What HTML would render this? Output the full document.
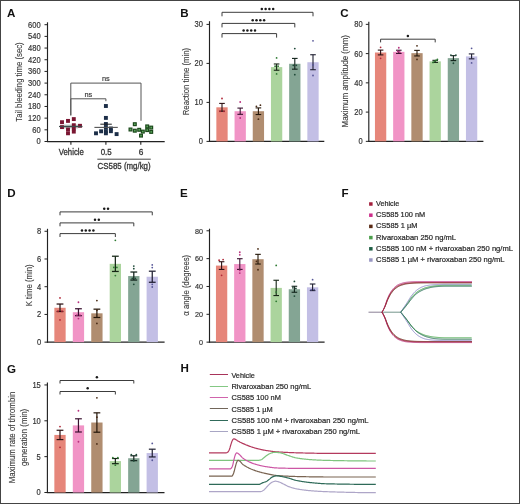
<!DOCTYPE html>
<html><head><meta charset="utf-8"><title>Figure</title>
<style>html,body{margin:0;padding:0;background:#fff;width:520px;height:504px;overflow:hidden}svg text{font-family:"Liberation Sans", sans-serif} svg{will-change:transform}</style>
</head><body>
<svg width="520" height="504" viewBox="0 0 520 504" style="display:block;font-family:'Liberation Sans', sans-serif">
<rect x="0.00" y="0.00" width="520.00" height="504.00" fill="#ffffff"/>
<text x="7.00" y="17.40" font-size="11.6" fill="#111" font-weight="bold">A</text>
<line x1="47.50" y1="22.30" x2="47.50" y2="142.00" stroke="#222" stroke-width="1.15"/>
<line x1="44.50" y1="141.50" x2="47.50" y2="141.50" stroke="#222" stroke-width="1.0"/>
<text x="40.70" y="144.48" font-size="8.4" fill="#333" stroke="#333" stroke-width="0.18" text-anchor="end" textLength="4.20" lengthAdjust="spacingAndGlyphs">0</text>
<line x1="44.50" y1="129.82" x2="47.50" y2="129.82" stroke="#222" stroke-width="1.0"/>
<text x="40.70" y="132.80" font-size="8.4" fill="#333" stroke="#333" stroke-width="0.18" text-anchor="end" textLength="8.40" lengthAdjust="spacingAndGlyphs">60</text>
<line x1="44.50" y1="118.14" x2="47.50" y2="118.14" stroke="#222" stroke-width="1.0"/>
<text x="40.70" y="121.12" font-size="8.4" fill="#333" stroke="#333" stroke-width="0.18" text-anchor="end" textLength="12.60" lengthAdjust="spacingAndGlyphs">120</text>
<line x1="44.50" y1="106.46" x2="47.50" y2="106.46" stroke="#222" stroke-width="1.0"/>
<text x="40.70" y="109.44" font-size="8.4" fill="#333" stroke="#333" stroke-width="0.18" text-anchor="end" textLength="12.60" lengthAdjust="spacingAndGlyphs">180</text>
<line x1="44.50" y1="94.78" x2="47.50" y2="94.78" stroke="#222" stroke-width="1.0"/>
<text x="40.70" y="97.76" font-size="8.4" fill="#333" stroke="#333" stroke-width="0.18" text-anchor="end" textLength="12.60" lengthAdjust="spacingAndGlyphs">240</text>
<line x1="44.50" y1="83.10" x2="47.50" y2="83.10" stroke="#222" stroke-width="1.0"/>
<text x="40.70" y="86.08" font-size="8.4" fill="#333" stroke="#333" stroke-width="0.18" text-anchor="end" textLength="12.60" lengthAdjust="spacingAndGlyphs">300</text>
<line x1="44.50" y1="71.42" x2="47.50" y2="71.42" stroke="#222" stroke-width="1.0"/>
<text x="40.70" y="74.40" font-size="8.4" fill="#333" stroke="#333" stroke-width="0.18" text-anchor="end" textLength="12.60" lengthAdjust="spacingAndGlyphs">360</text>
<line x1="44.50" y1="59.74" x2="47.50" y2="59.74" stroke="#222" stroke-width="1.0"/>
<text x="40.70" y="62.72" font-size="8.4" fill="#333" stroke="#333" stroke-width="0.18" text-anchor="end" textLength="12.60" lengthAdjust="spacingAndGlyphs">420</text>
<line x1="44.50" y1="48.06" x2="47.50" y2="48.06" stroke="#222" stroke-width="1.0"/>
<text x="40.70" y="51.04" font-size="8.4" fill="#333" stroke="#333" stroke-width="0.18" text-anchor="end" textLength="12.60" lengthAdjust="spacingAndGlyphs">480</text>
<line x1="44.50" y1="36.38" x2="47.50" y2="36.38" stroke="#222" stroke-width="1.0"/>
<text x="40.70" y="39.36" font-size="8.4" fill="#333" stroke="#333" stroke-width="0.18" text-anchor="end" textLength="12.60" lengthAdjust="spacingAndGlyphs">540</text>
<line x1="44.50" y1="24.70" x2="47.50" y2="24.70" stroke="#222" stroke-width="1.0"/>
<text x="40.70" y="27.68" font-size="8.4" fill="#333" stroke="#333" stroke-width="0.18" text-anchor="end" textLength="12.60" lengthAdjust="spacingAndGlyphs">600</text>
<line x1="46.90" y1="141.50" x2="164.70" y2="141.50" stroke="#222" stroke-width="1.25"/>
<line x1="70.90" y1="141.50" x2="70.90" y2="144.70" stroke="#222" stroke-width="1.1"/>
<line x1="105.90" y1="141.50" x2="105.90" y2="144.70" stroke="#222" stroke-width="1.1"/>
<line x1="140.80" y1="141.50" x2="140.80" y2="144.70" stroke="#222" stroke-width="1.1"/>
<text x="22.30" y="82.00" font-size="9.6" fill="#3a3a3a" stroke="#3a3a3a" stroke-width="0.12" text-anchor="middle" textLength="79.40" lengthAdjust="spacingAndGlyphs" transform="rotate(-90 22.30 82.00)">Tail bleeding time (sec)</text>
<text x="71.30" y="155.00" font-size="8.8" fill="#333" stroke="#333" stroke-width="0.3" text-anchor="middle" textLength="25.00" lengthAdjust="spacingAndGlyphs">Vehicle</text>
<text x="106.20" y="155.00" font-size="8.8" fill="#333" stroke="#333" stroke-width="0.3" text-anchor="middle" textLength="11.00" lengthAdjust="spacingAndGlyphs">0.5</text>
<text x="141.00" y="155.00" font-size="8.8" fill="#333" stroke="#333" stroke-width="0.3" text-anchor="middle" textLength="4.60" lengthAdjust="spacingAndGlyphs">6</text>
<line x1="97.30" y1="159.20" x2="150.80" y2="159.20" stroke="#333" stroke-width="0.9"/>
<text x="124.10" y="168.80" font-size="8.7" fill="#333" stroke="#333" stroke-width="0.3" text-anchor="middle" textLength="53.00" lengthAdjust="spacingAndGlyphs">CS585 (mg/kg)</text>
<path d="M70.80 115.40V83.10H141.00V120.80" fill="none" stroke="#555" stroke-width="1.0"/>
<text x="105.90" y="80.90" font-size="8" fill="#333" stroke="#333" stroke-width="0.15" text-anchor="middle" textLength="7.80" lengthAdjust="spacingAndGlyphs">ns</text>
<path d="M70.80 115.40V98.80H105.90V101.20" fill="none" stroke="#555" stroke-width="1.0"/>
<text x="88.35" y="96.60" font-size="8" fill="#333" stroke="#333" stroke-width="0.15" text-anchor="middle" textLength="7.80" lengthAdjust="spacingAndGlyphs">ns</text>
<rect x="64" y="124.6" width="14" height="3.8" fill="#b8c4c0"/>
<rect x="60.05" y="120.25" width="3.90" height="3.90" fill="#7a1632"/>
<rect x="60.05" y="125.15" width="3.90" height="3.90" fill="#7a1632"/>
<rect x="66.05" y="118.95" width="3.90" height="3.90" fill="#7a1632"/>
<rect x="66.05" y="127.55" width="3.90" height="3.90" fill="#7a1632"/>
<rect x="66.05" y="131.35" width="3.90" height="3.90" fill="#7a1632"/>
<rect x="71.85" y="117.15" width="3.90" height="3.90" fill="#7a1632"/>
<rect x="71.85" y="123.25" width="3.90" height="3.90" fill="#7a1632"/>
<rect x="71.85" y="126.55" width="3.90" height="3.90" fill="#7a1632"/>
<rect x="71.85" y="129.65" width="3.90" height="3.90" fill="#7a1632"/>
<rect x="78.05" y="123.85" width="3.90" height="3.90" fill="#7a1632"/>
<line x1="59.00" y1="126.50" x2="82.50" y2="126.50" stroke="#3e4a4a" stroke-width="1.2"/>
<rect x="103.95" y="104.05" width="3.90" height="3.90" fill="#1c2e48"/>
<rect x="103.95" y="115.95" width="3.90" height="3.90" fill="#1c2e48"/>
<rect x="103.95" y="122.05" width="3.90" height="3.90" fill="#1c2e48"/>
<rect x="103.95" y="125.85" width="3.90" height="3.90" fill="#1c2e48"/>
<rect x="103.95" y="129.35" width="3.90" height="3.90" fill="#1c2e48"/>
<rect x="103.95" y="131.35" width="3.90" height="3.90" fill="#1c2e48"/>
<rect x="108.95" y="126.55" width="3.90" height="3.90" fill="#1c2e48"/>
<rect x="108.95" y="129.25" width="3.90" height="3.90" fill="#1c2e48"/>
<rect x="99.15" y="129.35" width="3.90" height="3.90" fill="#1c2e48"/>
<rect x="94.05" y="131.35" width="3.90" height="3.90" fill="#1c2e48"/>
<rect x="114.65" y="132.15" width="3.90" height="3.90" fill="#1c2e48"/>
<line x1="94.40" y1="127.40" x2="117.80" y2="127.40" stroke="#555" stroke-width="1.1"/>
<line x1="100.30" y1="124.20" x2="111.80" y2="124.20" stroke="#222" stroke-width="1.0"/>
<rect x="133.40" y="122.80" width="2.80" height="2.80" fill="#5aa55a" stroke="#1d4a1d" stroke-width="1.2"/>
<rect x="129.10" y="128.10" width="2.80" height="2.80" fill="#5aa55a" stroke="#1d4a1d" stroke-width="1.2"/>
<rect x="133.40" y="129.30" width="2.80" height="2.80" fill="#5aa55a" stroke="#1d4a1d" stroke-width="1.2"/>
<rect x="137.80" y="128.40" width="2.80" height="2.80" fill="#5aa55a" stroke="#1d4a1d" stroke-width="1.2"/>
<rect x="141.40" y="130.20" width="2.80" height="2.80" fill="#5aa55a" stroke="#1d4a1d" stroke-width="1.2"/>
<rect x="139.60" y="134.20" width="2.80" height="2.80" fill="#5aa55a" stroke="#1d4a1d" stroke-width="1.2"/>
<rect x="145.80" y="125.00" width="2.80" height="2.80" fill="#5aa55a" stroke="#1d4a1d" stroke-width="1.2"/>
<rect x="145.80" y="128.70" width="2.80" height="2.80" fill="#5aa55a" stroke="#1d4a1d" stroke-width="1.2"/>
<rect x="149.80" y="126.20" width="2.80" height="2.80" fill="#5aa55a" stroke="#1d4a1d" stroke-width="1.2"/>
<rect x="149.80" y="130.50" width="2.80" height="2.80" fill="#5aa55a" stroke="#1d4a1d" stroke-width="1.2"/>
<text x="180.30" y="16.90" font-size="11.6" fill="#111" font-weight="bold">B</text>
<line x1="209.50" y1="21.20" x2="209.50" y2="141.90" stroke="#222" stroke-width="1.15"/>
<line x1="206.50" y1="141.40" x2="209.50" y2="141.40" stroke="#222" stroke-width="1.0"/>
<text x="203.00" y="144.38" font-size="8.4" fill="#333" stroke="#333" stroke-width="0.18" text-anchor="end" textLength="4.20" lengthAdjust="spacingAndGlyphs">0</text>
<line x1="206.50" y1="102.40" x2="209.50" y2="102.40" stroke="#222" stroke-width="1.0"/>
<text x="203.00" y="105.38" font-size="8.4" fill="#333" stroke="#333" stroke-width="0.18" text-anchor="end" textLength="8.40" lengthAdjust="spacingAndGlyphs">10</text>
<line x1="206.50" y1="63.40" x2="209.50" y2="63.40" stroke="#222" stroke-width="1.0"/>
<text x="203.00" y="66.38" font-size="8.4" fill="#333" stroke="#333" stroke-width="0.18" text-anchor="end" textLength="8.40" lengthAdjust="spacingAndGlyphs">20</text>
<line x1="206.50" y1="24.40" x2="209.50" y2="24.40" stroke="#222" stroke-width="1.0"/>
<text x="203.00" y="27.38" font-size="8.4" fill="#333" stroke="#333" stroke-width="0.18" text-anchor="end" textLength="8.40" lengthAdjust="spacingAndGlyphs">30</text>
<line x1="208.90" y1="141.40" x2="324.30" y2="141.40" stroke="#222" stroke-width="1.25"/>
<text x="189.10" y="81.55" font-size="9.6" fill="#3a3a3a" stroke="#3a3a3a" stroke-width="0.12" text-anchor="middle" textLength="67.50" lengthAdjust="spacingAndGlyphs" transform="rotate(-90 189.10 81.55)">Reaction time (min)</text>
<rect x="216.35" y="107.31" width="11.30" height="34.09" fill="#e6867a"/>
<rect x="234.55" y="111.21" width="11.30" height="30.19" fill="#f194c6"/>
<rect x="252.75" y="111.21" width="11.30" height="30.19" fill="#b08d70"/>
<rect x="270.95" y="67.11" width="11.30" height="74.30" fill="#abd49d"/>
<rect x="289.15" y="63.79" width="11.30" height="77.61" fill="#84a594"/>
<rect x="307.35" y="62.23" width="11.30" height="79.17" fill="#c3bfe5"/>
<line x1="222.00" y1="103.41" x2="222.00" y2="111.21" stroke="#2c1214" stroke-width="1.1"/>
<line x1="219.20" y1="103.41" x2="224.80" y2="103.41" stroke="#2c1214" stroke-width="1.1"/>
<line x1="219.20" y1="111.21" x2="224.80" y2="111.21" stroke="#2c1214" stroke-width="1.1"/>
<circle cx="222.00" cy="98.50" r="0.9" fill="#b02838"/>
<circle cx="220.00" cy="111.37" r="0.9" fill="#b02838"/>
<circle cx="224.00" cy="111.37" r="0.9" fill="#b02838"/>
<line x1="240.20" y1="108.09" x2="240.20" y2="114.33" stroke="#3a1230" stroke-width="1.1"/>
<line x1="237.40" y1="108.09" x2="243.00" y2="108.09" stroke="#3a1230" stroke-width="1.1"/>
<line x1="237.40" y1="114.33" x2="243.00" y2="114.33" stroke="#3a1230" stroke-width="1.1"/>
<circle cx="240.20" cy="102.01" r="0.9" fill="#b8307e"/>
<circle cx="240.20" cy="118.00" r="0.9" fill="#b8307e"/>
<line x1="258.40" y1="107.90" x2="258.40" y2="114.53" stroke="#241609" stroke-width="1.1"/>
<line x1="255.60" y1="107.90" x2="261.20" y2="107.90" stroke="#241609" stroke-width="1.1"/>
<line x1="255.60" y1="114.53" x2="261.20" y2="114.53" stroke="#241609" stroke-width="1.1"/>
<circle cx="256.40" cy="106.30" r="0.9" fill="#4a2c16"/>
<circle cx="260.40" cy="105.13" r="0.9" fill="#4a2c16"/>
<circle cx="258.40" cy="119.17" r="0.9" fill="#4a2c16"/>
<line x1="276.60" y1="63.98" x2="276.60" y2="70.23" stroke="#152515" stroke-width="1.1"/>
<line x1="273.80" y1="63.98" x2="279.40" y2="63.98" stroke="#152515" stroke-width="1.1"/>
<line x1="273.80" y1="70.23" x2="279.40" y2="70.23" stroke="#152515" stroke-width="1.1"/>
<circle cx="276.60" cy="57.94" r="0.9" fill="#2e7a32"/>
<circle cx="276.60" cy="73.93" r="0.9" fill="#2e7a32"/>
<circle cx="275.10" cy="66.13" r="0.9" fill="#2e7a32"/>
<circle cx="278.10" cy="66.13" r="0.9" fill="#2e7a32"/>
<line x1="294.80" y1="58.41" x2="294.80" y2="69.17" stroke="#10221a" stroke-width="1.1"/>
<line x1="292.00" y1="58.41" x2="297.60" y2="58.41" stroke="#10221a" stroke-width="1.1"/>
<line x1="292.00" y1="69.17" x2="297.60" y2="69.17" stroke="#10221a" stroke-width="1.1"/>
<circle cx="294.80" cy="48.58" r="0.9" fill="#1f4a38"/>
<circle cx="294.80" cy="74.71" r="0.9" fill="#1f4a38"/>
<circle cx="293.30" cy="65.35" r="0.9" fill="#1f4a38"/>
<circle cx="296.30" cy="65.35" r="0.9" fill="#1f4a38"/>
<line x1="313.00" y1="54.74" x2="313.00" y2="69.72" stroke="#1e1e30" stroke-width="1.1"/>
<line x1="310.20" y1="54.74" x2="315.80" y2="54.74" stroke="#1e1e30" stroke-width="1.1"/>
<line x1="310.20" y1="69.72" x2="315.80" y2="69.72" stroke="#1e1e30" stroke-width="1.1"/>
<circle cx="313.00" cy="40.78" r="0.9" fill="#585898"/>
<circle cx="313.00" cy="64.96" r="0.9" fill="#585898"/>
<circle cx="313.00" cy="75.49" r="0.9" fill="#585898"/>
<path d="M222.00 16.30V12.30H313.00V16.30" fill="none" stroke="#3c3c3c" stroke-width="1.0"/>
<circle cx="261.80" cy="9.10" r="1.25" fill="#1a1a1a"/>
<circle cx="265.60" cy="9.10" r="1.25" fill="#1a1a1a"/>
<circle cx="269.40" cy="9.10" r="1.25" fill="#1a1a1a"/>
<circle cx="273.20" cy="9.10" r="1.25" fill="#1a1a1a"/>
<path d="M222.00 27.40V23.40H294.80V27.40" fill="none" stroke="#3c3c3c" stroke-width="1.0"/>
<circle cx="252.70" cy="20.20" r="1.25" fill="#1a1a1a"/>
<circle cx="256.50" cy="20.20" r="1.25" fill="#1a1a1a"/>
<circle cx="260.30" cy="20.20" r="1.25" fill="#1a1a1a"/>
<circle cx="264.10" cy="20.20" r="1.25" fill="#1a1a1a"/>
<path d="M222.00 37.60V33.60H276.60V37.60" fill="none" stroke="#3c3c3c" stroke-width="1.0"/>
<circle cx="243.60" cy="30.40" r="1.25" fill="#1a1a1a"/>
<circle cx="247.40" cy="30.40" r="1.25" fill="#1a1a1a"/>
<circle cx="251.20" cy="30.40" r="1.25" fill="#1a1a1a"/>
<circle cx="255.00" cy="30.40" r="1.25" fill="#1a1a1a"/>
<text x="340.30" y="16.90" font-size="11.6" fill="#111" font-weight="bold">C</text>
<line x1="368.80" y1="21.80" x2="368.80" y2="141.85" stroke="#222" stroke-width="1.15"/>
<line x1="365.80" y1="141.35" x2="368.80" y2="141.35" stroke="#222" stroke-width="1.0"/>
<text x="362.70" y="144.33" font-size="8.4" fill="#333" stroke="#333" stroke-width="0.18" text-anchor="end" textLength="4.20" lengthAdjust="spacingAndGlyphs">0</text>
<line x1="365.80" y1="112.10" x2="368.80" y2="112.10" stroke="#222" stroke-width="1.0"/>
<text x="362.70" y="115.08" font-size="8.4" fill="#333" stroke="#333" stroke-width="0.18" text-anchor="end" textLength="8.40" lengthAdjust="spacingAndGlyphs">20</text>
<line x1="365.80" y1="82.85" x2="368.80" y2="82.85" stroke="#222" stroke-width="1.0"/>
<text x="362.70" y="85.83" font-size="8.4" fill="#333" stroke="#333" stroke-width="0.18" text-anchor="end" textLength="8.40" lengthAdjust="spacingAndGlyphs">40</text>
<line x1="365.80" y1="53.60" x2="368.80" y2="53.60" stroke="#222" stroke-width="1.0"/>
<text x="362.70" y="56.58" font-size="8.4" fill="#333" stroke="#333" stroke-width="0.18" text-anchor="end" textLength="8.40" lengthAdjust="spacingAndGlyphs">60</text>
<line x1="365.80" y1="24.35" x2="368.80" y2="24.35" stroke="#222" stroke-width="1.0"/>
<text x="362.70" y="27.33" font-size="8.4" fill="#333" stroke="#333" stroke-width="0.18" text-anchor="end" textLength="8.40" lengthAdjust="spacingAndGlyphs">80</text>
<line x1="368.20" y1="141.35" x2="483.40" y2="141.35" stroke="#222" stroke-width="1.25"/>
<text x="348.10" y="81.25" font-size="9.6" fill="#3a3a3a" stroke="#3a3a3a" stroke-width="0.12" text-anchor="middle" textLength="92.50" lengthAdjust="spacingAndGlyphs" transform="rotate(-90 348.10 81.25)">Maximum amplitude (mm)</text>
<rect x="374.95" y="52.50" width="11.30" height="88.85" fill="#e6867a"/>
<rect x="393.15" y="51.84" width="11.30" height="89.50" fill="#f194c6"/>
<rect x="411.35" y="53.16" width="11.30" height="88.19" fill="#b08d70"/>
<rect x="429.55" y="61.35" width="11.30" height="80.00" fill="#abd49d"/>
<rect x="447.75" y="58.13" width="11.30" height="83.22" fill="#84a594"/>
<rect x="465.95" y="56.38" width="11.30" height="84.97" fill="#c3bfe5"/>
<line x1="380.60" y1="50.10" x2="380.60" y2="54.90" stroke="#2c1214" stroke-width="1.1"/>
<line x1="377.80" y1="50.10" x2="383.40" y2="50.10" stroke="#2c1214" stroke-width="1.1"/>
<line x1="377.80" y1="54.90" x2="383.40" y2="54.90" stroke="#2c1214" stroke-width="1.1"/>
<circle cx="380.60" cy="47.31" r="0.9" fill="#b02838"/>
<circle cx="380.60" cy="58.28" r="0.9" fill="#b02838"/>
<line x1="398.80" y1="50.24" x2="398.80" y2="53.45" stroke="#3a1230" stroke-width="1.1"/>
<line x1="396.00" y1="50.24" x2="401.60" y2="50.24" stroke="#3a1230" stroke-width="1.1"/>
<line x1="396.00" y1="53.45" x2="401.60" y2="53.45" stroke="#3a1230" stroke-width="1.1"/>
<circle cx="398.80" cy="47.75" r="0.9" fill="#b8307e"/>
<circle cx="397.80" cy="51.41" r="0.9" fill="#b8307e"/>
<circle cx="399.80" cy="52.14" r="0.9" fill="#b8307e"/>
<line x1="417.00" y1="50.38" x2="417.00" y2="55.94" stroke="#241609" stroke-width="1.1"/>
<line x1="414.20" y1="50.38" x2="419.80" y2="50.38" stroke="#241609" stroke-width="1.1"/>
<line x1="414.20" y1="55.94" x2="419.80" y2="55.94" stroke="#241609" stroke-width="1.1"/>
<circle cx="417.00" cy="45.85" r="0.9" fill="#4a2c16"/>
<circle cx="417.00" cy="59.45" r="0.9" fill="#4a2c16"/>
<line x1="435.20" y1="60.33" x2="435.20" y2="62.38" stroke="#152515" stroke-width="1.1"/>
<line x1="432.40" y1="60.33" x2="438.00" y2="60.33" stroke="#152515" stroke-width="1.1"/>
<line x1="432.40" y1="62.38" x2="438.00" y2="62.38" stroke="#152515" stroke-width="1.1"/>
<circle cx="433.00" cy="62.38" r="0.9" fill="#2e7a32"/>
<circle cx="434.40" cy="61.35" r="0.9" fill="#2e7a32"/>
<circle cx="436.00" cy="60.33" r="0.9" fill="#2e7a32"/>
<circle cx="437.40" cy="59.45" r="0.9" fill="#2e7a32"/>
<line x1="453.40" y1="55.68" x2="453.40" y2="60.59" stroke="#10221a" stroke-width="1.1"/>
<line x1="450.60" y1="55.68" x2="456.20" y2="55.68" stroke="#10221a" stroke-width="1.1"/>
<line x1="450.60" y1="60.59" x2="456.20" y2="60.59" stroke="#10221a" stroke-width="1.1"/>
<circle cx="450.90" cy="55.06" r="0.9" fill="#1f4a38"/>
<circle cx="455.90" cy="55.06" r="0.9" fill="#1f4a38"/>
<circle cx="453.40" cy="63.25" r="0.9" fill="#1f4a38"/>
<line x1="471.60" y1="53.92" x2="471.60" y2="58.84" stroke="#1e1e30" stroke-width="1.1"/>
<line x1="468.80" y1="53.92" x2="474.40" y2="53.92" stroke="#1e1e30" stroke-width="1.1"/>
<line x1="468.80" y1="58.84" x2="474.40" y2="58.84" stroke="#1e1e30" stroke-width="1.1"/>
<circle cx="471.60" cy="48.33" r="0.9" fill="#585898"/>
<circle cx="471.60" cy="62.96" r="0.9" fill="#585898"/>
<path d="M380.60 42.40V39.20H435.20V42.40" fill="none" stroke="#3c3c3c" stroke-width="1.0"/>
<circle cx="407.90" cy="36.00" r="1.25" fill="#1a1a1a"/>
<text x="7.30" y="196.60" font-size="11.6" fill="#111" font-weight="bold">D</text>
<line x1="47.50" y1="228.80" x2="47.50" y2="342.65" stroke="#222" stroke-width="1.15"/>
<line x1="44.50" y1="342.15" x2="47.50" y2="342.15" stroke="#222" stroke-width="1.0"/>
<text x="41.10" y="345.13" font-size="8.4" fill="#333" stroke="#333" stroke-width="0.18" text-anchor="end" textLength="4.20" lengthAdjust="spacingAndGlyphs">0</text>
<line x1="44.50" y1="314.43" x2="47.50" y2="314.43" stroke="#222" stroke-width="1.0"/>
<text x="41.10" y="317.41" font-size="8.4" fill="#333" stroke="#333" stroke-width="0.18" text-anchor="end" textLength="4.20" lengthAdjust="spacingAndGlyphs">2</text>
<line x1="44.50" y1="286.71" x2="47.50" y2="286.71" stroke="#222" stroke-width="1.0"/>
<text x="41.10" y="289.69" font-size="8.4" fill="#333" stroke="#333" stroke-width="0.18" text-anchor="end" textLength="4.20" lengthAdjust="spacingAndGlyphs">4</text>
<line x1="44.50" y1="258.99" x2="47.50" y2="258.99" stroke="#222" stroke-width="1.0"/>
<text x="41.10" y="261.97" font-size="8.4" fill="#333" stroke="#333" stroke-width="0.18" text-anchor="end" textLength="4.20" lengthAdjust="spacingAndGlyphs">6</text>
<line x1="44.50" y1="231.27" x2="47.50" y2="231.27" stroke="#222" stroke-width="1.0"/>
<text x="41.10" y="234.25" font-size="8.4" fill="#333" stroke="#333" stroke-width="0.18" text-anchor="end" textLength="4.20" lengthAdjust="spacingAndGlyphs">8</text>
<line x1="46.90" y1="342.15" x2="164.60" y2="342.15" stroke="#222" stroke-width="1.25"/>
<text x="31.60" y="285.30" font-size="9.6" fill="#3a3a3a" stroke="#3a3a3a" stroke-width="0.12" text-anchor="middle" textLength="42.00" lengthAdjust="spacingAndGlyphs" transform="rotate(-90 31.60 285.30)">K time (min)</text>
<rect x="54.35" y="307.78" width="11.30" height="34.37" fill="#e6867a"/>
<rect x="72.80" y="312.21" width="11.30" height="29.94" fill="#f194c6"/>
<rect x="91.25" y="313.32" width="11.30" height="28.83" fill="#b08d70"/>
<rect x="109.70" y="263.84" width="11.30" height="78.31" fill="#abd49d"/>
<rect x="128.15" y="276.04" width="11.30" height="66.11" fill="#84a594"/>
<rect x="146.60" y="276.73" width="11.30" height="65.42" fill="#c3bfe5"/>
<line x1="60.00" y1="304.03" x2="60.00" y2="311.52" stroke="#2c1214" stroke-width="1.25"/>
<line x1="56.60" y1="304.03" x2="63.40" y2="304.03" stroke="#2c1214" stroke-width="1.25"/>
<line x1="56.60" y1="311.52" x2="63.40" y2="311.52" stroke="#2c1214" stroke-width="1.25"/>
<circle cx="60.00" cy="297.94" r="0.9" fill="#b02838"/>
<circle cx="58.00" cy="311.24" r="0.9" fill="#b02838"/>
<circle cx="62.00" cy="311.24" r="0.9" fill="#b02838"/>
<circle cx="60.00" cy="319.97" r="0.9" fill="#b02838"/>
<line x1="78.45" y1="308.75" x2="78.45" y2="315.68" stroke="#3a1230" stroke-width="1.25"/>
<line x1="75.05" y1="308.75" x2="81.85" y2="308.75" stroke="#3a1230" stroke-width="1.25"/>
<line x1="75.05" y1="315.68" x2="81.85" y2="315.68" stroke="#3a1230" stroke-width="1.25"/>
<circle cx="78.45" cy="302.23" r="0.9" fill="#b8307e"/>
<circle cx="76.95" cy="315.12" r="0.9" fill="#b8307e"/>
<circle cx="79.95" cy="315.12" r="0.9" fill="#b8307e"/>
<circle cx="78.45" cy="318.59" r="0.9" fill="#b8307e"/>
<line x1="96.90" y1="309.16" x2="96.90" y2="317.48" stroke="#241609" stroke-width="1.25"/>
<line x1="93.50" y1="309.16" x2="100.30" y2="309.16" stroke="#241609" stroke-width="1.25"/>
<line x1="93.50" y1="317.48" x2="100.30" y2="317.48" stroke="#241609" stroke-width="1.25"/>
<circle cx="96.90" cy="300.57" r="0.9" fill="#4a2c16"/>
<circle cx="96.90" cy="310.27" r="0.9" fill="#4a2c16"/>
<circle cx="96.90" cy="323.44" r="0.9" fill="#4a2c16"/>
<line x1="115.35" y1="256.22" x2="115.35" y2="271.46" stroke="#152515" stroke-width="1.25"/>
<line x1="111.95" y1="256.22" x2="118.75" y2="256.22" stroke="#152515" stroke-width="1.25"/>
<line x1="111.95" y1="271.46" x2="118.75" y2="271.46" stroke="#152515" stroke-width="1.25"/>
<circle cx="115.35" cy="240.28" r="0.9" fill="#2e7a32"/>
<circle cx="113.85" cy="267.44" r="0.9" fill="#2e7a32"/>
<circle cx="116.85" cy="267.44" r="0.9" fill="#2e7a32"/>
<circle cx="115.35" cy="275.62" r="0.9" fill="#2e7a32"/>
<line x1="133.80" y1="272.02" x2="133.80" y2="280.06" stroke="#10221a" stroke-width="1.25"/>
<line x1="130.40" y1="272.02" x2="137.20" y2="272.02" stroke="#10221a" stroke-width="1.25"/>
<line x1="130.40" y1="280.06" x2="137.20" y2="280.06" stroke="#10221a" stroke-width="1.25"/>
<circle cx="133.80" cy="266.06" r="0.9" fill="#1f4a38"/>
<circle cx="133.80" cy="268.69" r="0.9" fill="#1f4a38"/>
<circle cx="132.30" cy="278.39" r="0.9" fill="#1f4a38"/>
<circle cx="135.30" cy="278.39" r="0.9" fill="#1f4a38"/>
<circle cx="133.80" cy="284.35" r="0.9" fill="#1f4a38"/>
<line x1="152.25" y1="271.19" x2="152.25" y2="282.27" stroke="#1e1e30" stroke-width="1.25"/>
<line x1="148.85" y1="271.19" x2="155.65" y2="271.19" stroke="#1e1e30" stroke-width="1.25"/>
<line x1="148.85" y1="282.27" x2="155.65" y2="282.27" stroke="#1e1e30" stroke-width="1.25"/>
<circle cx="152.25" cy="264.95" r="0.9" fill="#585898"/>
<circle cx="152.25" cy="267.58" r="0.9" fill="#585898"/>
<circle cx="152.25" cy="284.35" r="0.9" fill="#585898"/>
<circle cx="152.25" cy="286.99" r="0.9" fill="#585898"/>
<path d="M60.00 215.30V211.90H152.25V215.30" fill="none" stroke="#3c3c3c" stroke-width="1.0"/>
<circle cx="104.22" cy="208.70" r="1.25" fill="#1a1a1a"/>
<circle cx="108.03" cy="208.70" r="1.25" fill="#1a1a1a"/>
<path d="M60.00 226.30V222.90H133.80V226.30" fill="none" stroke="#3c3c3c" stroke-width="1.0"/>
<circle cx="95.00" cy="219.70" r="1.25" fill="#1a1a1a"/>
<circle cx="98.80" cy="219.70" r="1.25" fill="#1a1a1a"/>
<path d="M60.00 237.00V233.60H115.35V237.00" fill="none" stroke="#3c3c3c" stroke-width="1.0"/>
<circle cx="81.97" cy="230.40" r="1.25" fill="#1a1a1a"/>
<circle cx="85.77" cy="230.40" r="1.25" fill="#1a1a1a"/>
<circle cx="89.58" cy="230.40" r="1.25" fill="#1a1a1a"/>
<circle cx="93.38" cy="230.40" r="1.25" fill="#1a1a1a"/>
<text x="180.00" y="196.90" font-size="11.6" fill="#111" font-weight="bold">E</text>
<line x1="209.50" y1="228.70" x2="209.50" y2="342.65" stroke="#222" stroke-width="1.15"/>
<line x1="206.50" y1="342.15" x2="209.50" y2="342.15" stroke="#222" stroke-width="1.0"/>
<text x="202.90" y="344.88" font-size="7.7" fill="#333" stroke="#333" stroke-width="0.18" text-anchor="end" textLength="4.00" lengthAdjust="spacingAndGlyphs">0</text>
<line x1="206.50" y1="314.31" x2="209.50" y2="314.31" stroke="#222" stroke-width="1.0"/>
<text x="202.90" y="317.04" font-size="7.7" fill="#333" stroke="#333" stroke-width="0.18" text-anchor="end" textLength="8.00" lengthAdjust="spacingAndGlyphs">20</text>
<line x1="206.50" y1="286.47" x2="209.50" y2="286.47" stroke="#222" stroke-width="1.0"/>
<text x="202.90" y="289.20" font-size="7.7" fill="#333" stroke="#333" stroke-width="0.18" text-anchor="end" textLength="8.00" lengthAdjust="spacingAndGlyphs">40</text>
<line x1="206.50" y1="258.63" x2="209.50" y2="258.63" stroke="#222" stroke-width="1.0"/>
<text x="202.90" y="261.36" font-size="7.7" fill="#333" stroke="#333" stroke-width="0.18" text-anchor="end" textLength="8.00" lengthAdjust="spacingAndGlyphs">60</text>
<line x1="206.50" y1="230.79" x2="209.50" y2="230.79" stroke="#222" stroke-width="1.0"/>
<text x="202.90" y="233.52" font-size="7.7" fill="#333" stroke="#333" stroke-width="0.18" text-anchor="end" textLength="8.00" lengthAdjust="spacingAndGlyphs">80</text>
<line x1="208.90" y1="342.15" x2="324.60" y2="342.15" stroke="#222" stroke-width="1.25"/>
<text x="188.70" y="285.25" font-size="9.6" fill="#3a3a3a" stroke="#3a3a3a" stroke-width="0.12" text-anchor="middle" textLength="60.90" lengthAdjust="spacingAndGlyphs" transform="rotate(-90 188.70 285.25)">α angle (degrees)</text>
<rect x="215.95" y="265.59" width="11.30" height="76.56" fill="#e6867a"/>
<rect x="234.15" y="264.06" width="11.30" height="78.09" fill="#f194c6"/>
<rect x="252.35" y="259.19" width="11.30" height="82.96" fill="#b08d70"/>
<rect x="270.55" y="287.90" width="11.30" height="54.25" fill="#abd49d"/>
<rect x="288.75" y="289.25" width="11.30" height="52.90" fill="#84a594"/>
<rect x="306.95" y="287.31" width="11.30" height="54.84" fill="#c3bfe5"/>
<line x1="221.60" y1="261.73" x2="221.60" y2="269.45" stroke="#2c1214" stroke-width="1.1"/>
<line x1="218.80" y1="261.73" x2="224.40" y2="261.73" stroke="#2c1214" stroke-width="1.1"/>
<line x1="218.80" y1="269.45" x2="224.40" y2="269.45" stroke="#2c1214" stroke-width="1.1"/>
<circle cx="219.10" cy="260.16" r="0.9" fill="#b02838"/>
<circle cx="223.10" cy="259.60" r="0.9" fill="#b02838"/>
<circle cx="221.60" cy="275.33" r="0.9" fill="#b02838"/>
<line x1="239.80" y1="258.71" x2="239.80" y2="269.40" stroke="#3a1230" stroke-width="1.1"/>
<line x1="237.00" y1="258.71" x2="242.60" y2="258.71" stroke="#3a1230" stroke-width="1.1"/>
<line x1="237.00" y1="269.40" x2="242.60" y2="269.40" stroke="#3a1230" stroke-width="1.1"/>
<circle cx="239.80" cy="252.23" r="0.9" fill="#b8307e"/>
<circle cx="239.80" cy="254.87" r="0.9" fill="#b8307e"/>
<circle cx="239.80" cy="270.46" r="0.9" fill="#b8307e"/>
<circle cx="239.80" cy="273.11" r="0.9" fill="#b8307e"/>
<line x1="258.00" y1="254.34" x2="258.00" y2="264.03" stroke="#241609" stroke-width="1.1"/>
<line x1="255.20" y1="254.34" x2="260.80" y2="254.34" stroke="#241609" stroke-width="1.1"/>
<line x1="255.20" y1="264.03" x2="260.80" y2="264.03" stroke="#241609" stroke-width="1.1"/>
<circle cx="258.00" cy="248.89" r="0.9" fill="#4a2c16"/>
<circle cx="256.50" cy="261.41" r="0.9" fill="#4a2c16"/>
<circle cx="258.00" cy="269.77" r="0.9" fill="#4a2c16"/>
<line x1="276.20" y1="280.25" x2="276.20" y2="295.56" stroke="#152515" stroke-width="1.1"/>
<line x1="273.40" y1="280.25" x2="279.00" y2="280.25" stroke="#152515" stroke-width="1.1"/>
<line x1="273.40" y1="295.56" x2="279.00" y2="295.56" stroke="#152515" stroke-width="1.1"/>
<circle cx="276.20" cy="265.45" r="0.9" fill="#2e7a32"/>
<circle cx="276.20" cy="292.04" r="0.9" fill="#2e7a32"/>
<circle cx="276.20" cy="301.36" r="0.9" fill="#2e7a32"/>
<line x1="294.40" y1="286.26" x2="294.40" y2="292.25" stroke="#10221a" stroke-width="1.1"/>
<line x1="291.60" y1="286.26" x2="297.20" y2="286.26" stroke="#10221a" stroke-width="1.1"/>
<line x1="291.60" y1="292.25" x2="297.20" y2="292.25" stroke="#10221a" stroke-width="1.1"/>
<circle cx="294.40" cy="281.46" r="0.9" fill="#1f4a38"/>
<circle cx="292.90" cy="287.86" r="0.9" fill="#1f4a38"/>
<circle cx="295.90" cy="288.42" r="0.9" fill="#1f4a38"/>
<circle cx="294.40" cy="296.07" r="0.9" fill="#1f4a38"/>
<line x1="312.60" y1="284.01" x2="312.60" y2="290.60" stroke="#1e1e30" stroke-width="1.1"/>
<line x1="309.80" y1="284.01" x2="315.40" y2="284.01" stroke="#1e1e30" stroke-width="1.1"/>
<line x1="309.80" y1="290.60" x2="315.40" y2="290.60" stroke="#1e1e30" stroke-width="1.1"/>
<circle cx="312.60" cy="279.65" r="0.9" fill="#585898"/>
<circle cx="311.10" cy="289.81" r="0.9" fill="#585898"/>
<circle cx="314.10" cy="289.53" r="0.9" fill="#585898"/>
<text x="341.50" y="196.80" font-size="11.6" fill="#111" font-weight="bold">F</text>
<rect x="369.10" y="202.25" width="3.50" height="3.50" fill="#a31f3c"/>
<text x="376.00" y="205.90" font-size="7.9" fill="#2a2a2a" stroke="#2a2a2a" stroke-width="0.22" textLength="23.40" lengthAdjust="spacingAndGlyphs">Vehicle</text>
<rect x="369.10" y="213.45" width="3.50" height="3.50" fill="#cc2d8a"/>
<text x="376.00" y="217.10" font-size="7.9" fill="#2a2a2a" stroke="#2a2a2a" stroke-width="0.22" textLength="49.20" lengthAdjust="spacingAndGlyphs">CS585 100 nM</text>
<rect x="369.10" y="224.65" width="3.50" height="3.50" fill="#5a2a14"/>
<text x="376.00" y="228.30" font-size="7.9" fill="#2a2a2a" stroke="#2a2a2a" stroke-width="0.22" textLength="41.50" lengthAdjust="spacingAndGlyphs">CS585 1 µM</text>
<rect x="369.10" y="235.85" width="3.50" height="3.50" fill="#4a9e4a"/>
<text x="376.00" y="239.50" font-size="7.9" fill="#2a2a2a" stroke="#2a2a2a" stroke-width="0.22" textLength="80.00" lengthAdjust="spacingAndGlyphs">Rivaroxaban 250 ng/mL</text>
<rect x="369.10" y="247.05" width="3.50" height="3.50" fill="#1e5e45"/>
<text x="376.00" y="250.70" font-size="7.9" fill="#2a2a2a" stroke="#2a2a2a" stroke-width="0.22" textLength="137.00" lengthAdjust="spacingAndGlyphs">CS585 100 nM + rivaroxaban 250 ng/mL</text>
<rect x="369.10" y="258.25" width="3.50" height="3.50" fill="#9896c2"/>
<text x="376.00" y="261.90" font-size="7.9" fill="#2a2a2a" stroke="#2a2a2a" stroke-width="0.22" textLength="128.60" lengthAdjust="spacingAndGlyphs">CS585 1 µM + rivaroxaban 250 ng/mL</text>
<line x1="368.50" y1="312.20" x2="382.00" y2="312.20" stroke="#8a8096" stroke-width="1.0"/>
<line x1="381.50" y1="312.20" x2="401.00" y2="312.20" stroke="#74968c" stroke-width="1.0"/>
<path d="M400.60 312.20 L401.10 311.56 L401.60 310.93 L402.10 310.28 L402.60 309.64 L403.10 308.99 L403.60 308.33 L404.10 307.67 L404.60 307.01 L405.10 306.35 L405.60 305.68 L406.10 305.01 L406.60 304.34 L407.10 303.66 L407.60 302.95 L408.10 302.23 L408.60 301.49 L409.10 300.76 L409.60 300.03 L410.10 299.32 L410.60 298.63 L411.10 297.97 L411.60 297.36 L412.10 296.78 L412.60 296.21 L413.10 295.65 L413.60 295.11 L414.10 294.58 L414.60 294.08 L415.10 293.61 L415.60 293.16 L416.10 292.73 L416.60 292.35 L417.10 291.98 L417.60 291.63 L418.10 291.30 L418.60 290.99 L419.10 290.68 L419.60 290.40 L420.10 290.12 L420.60 289.86 L421.10 289.61 L421.60 289.36 L422.10 289.13 L422.60 288.89 L423.10 288.67 L423.60 288.45 L424.10 288.24 L424.60 288.05 L425.10 287.88 L425.60 287.72 L426.10 287.58 L426.60 287.44 L427.10 287.31 L427.60 287.19 L428.10 287.07 L428.60 286.95 L429.10 286.84 L429.60 286.73 L430.10 286.63 L430.60 286.53 L431.10 286.43 L431.60 286.34 L432.10 286.25 L432.60 286.17 L433.10 286.09 L433.60 286.02 L434.10 285.96 L434.60 285.90 L435.10 285.84 L435.60 285.79 L436.10 285.75 L436.60 285.70 L437.10 285.66 L437.60 285.61 L438.10 285.57 L438.60 285.53 L439.10 285.49 L439.60 285.45 L440.10 285.41 L440.60 285.38 L441.10 285.35 L441.60 285.32 L442.10 285.29 L442.60 285.26 L443.10 285.24 L443.60 285.23 L444.10 285.21 L444.60 285.20 L445.10 285.19 L445.60 285.19 L446.10 285.19 L446.60 285.19 L447.10 285.19 L447.60 285.19 L448.10 285.19 L448.60 285.19 L449.10 285.19 L449.60 285.19 L450.10 285.19 L450.60 285.19 L451.10 285.19 L451.60 285.19 L452.10 285.19 L452.60 285.19 L453.10 285.19 L453.60 285.19 L454.10 285.19 L454.60 285.19 L455.10 285.19 L455.60 285.19 L456.10 285.19 L456.60 285.19 L457.10 285.19 L457.60 285.19 L458.10 285.19 L458.60 285.19 L459.10 285.19 L459.60 285.19 L460.10 285.19 L460.60 285.19 L461.10 285.19 L461.60 285.19 L462.10 285.19 L462.60 285.19 L463.10 285.19 L463.60 285.19 L464.10 285.19 L464.60 285.19 L465.10 285.19 L465.60 285.19 L466.10 285.19 L466.60 285.19 L467.10 285.19 L467.60 285.19 L468.10 285.19 L468.60 285.19 L469.10 285.19 L469.60 285.19 L470.10 285.19 L470.60 285.19 L471.10 285.19 L471.60 285.19" fill="none" stroke="#4caa50" stroke-width="1.0"/>
<path d="M400.60 312.20 L401.10 312.80 L401.60 313.41 L402.10 314.02 L402.60 314.63 L403.10 315.25 L403.60 315.87 L404.10 316.49 L404.60 317.12 L405.10 317.75 L405.60 318.38 L406.10 319.01 L406.60 319.65 L407.10 320.30 L407.60 320.97 L408.10 321.65 L408.60 322.35 L409.10 323.05 L409.60 323.74 L410.10 324.41 L410.60 325.06 L411.10 325.69 L411.60 326.27 L412.10 326.82 L412.60 327.36 L413.10 327.89 L413.60 328.40 L414.10 328.90 L414.60 329.37 L415.10 329.83 L415.60 330.25 L416.10 330.65 L416.60 331.02 L417.10 331.37 L417.60 331.70 L418.10 332.01 L418.60 332.31 L419.10 332.60 L419.60 332.87 L420.10 333.13 L420.60 333.38 L421.10 333.62 L421.60 333.85 L422.10 334.07 L422.60 334.30 L423.10 334.51 L423.60 334.72 L424.10 334.91 L424.60 335.09 L425.10 335.26 L425.60 335.41 L426.10 335.54 L426.60 335.67 L427.10 335.79 L427.60 335.91 L428.10 336.02 L428.60 336.14 L429.10 336.24 L429.60 336.35 L430.10 336.44 L430.60 336.54 L431.10 336.63 L431.60 336.72 L432.10 336.80 L432.60 336.88 L433.10 336.95 L433.60 337.02 L434.10 337.08 L434.60 337.13 L435.10 337.19 L435.60 337.23 L436.10 337.28 L436.60 337.32 L437.10 337.36 L437.60 337.40 L438.10 337.44 L438.60 337.48 L439.10 337.52 L439.60 337.56 L440.10 337.59 L440.60 337.63 L441.10 337.66 L441.60 337.69 L442.10 337.71 L442.60 337.73 L443.10 337.75 L443.60 337.77 L444.10 337.79 L444.60 337.80 L445.10 337.80 L445.60 337.80 L446.10 337.80 L446.60 337.80 L447.10 337.80 L447.60 337.80 L448.10 337.80 L448.60 337.80 L449.10 337.80 L449.60 337.80 L450.10 337.80 L450.60 337.80 L451.10 337.80 L451.60 337.80 L452.10 337.80 L452.60 337.80 L453.10 337.80 L453.60 337.80 L454.10 337.80 L454.60 337.80 L455.10 337.80 L455.60 337.80 L456.10 337.80 L456.60 337.80 L457.10 337.80 L457.60 337.80 L458.10 337.80 L458.60 337.80 L459.10 337.80 L459.60 337.80 L460.10 337.80 L460.60 337.80 L461.10 337.80 L461.60 337.80 L462.10 337.80 L462.60 337.80 L463.10 337.80 L463.60 337.80 L464.10 337.80 L464.60 337.80 L465.10 337.80 L465.60 337.80 L466.10 337.80 L466.60 337.80 L467.10 337.80 L467.60 337.80 L468.10 337.80 L468.60 337.80 L469.10 337.80 L469.60 337.80 L470.10 337.80 L470.60 337.80 L471.10 337.80 L471.60 337.80" fill="none" stroke="#4caa50" stroke-width="1.0"/>
<path d="M400.60 312.20 L401.10 311.49 L401.60 310.77 L402.10 310.05 L402.60 309.32 L403.10 308.60 L403.60 307.86 L404.10 307.13 L404.60 306.39 L405.10 305.65 L405.60 304.90 L406.10 304.15 L406.60 303.40 L407.10 302.64 L407.60 301.85 L408.10 301.05 L408.60 300.23 L409.10 299.41 L409.60 298.60 L410.10 297.81 L410.60 297.04 L411.10 296.32 L411.60 295.65 L412.10 295.02 L412.60 294.40 L413.10 293.80 L413.60 293.22 L414.10 292.66 L414.60 292.12 L415.10 291.61 L415.60 291.14 L416.10 290.69 L416.60 290.28 L417.10 289.90 L417.60 289.52 L418.10 289.17 L418.60 288.83 L419.10 288.51 L419.60 288.21 L420.10 287.92 L420.60 287.66 L421.10 287.42 L421.60 287.20 L422.10 286.98 L422.60 286.77 L423.10 286.57 L423.60 286.39 L424.10 286.21 L424.60 286.05 L425.10 285.91 L425.60 285.79 L426.10 285.69 L426.60 285.60 L427.10 285.52 L427.60 285.44 L428.10 285.36 L428.60 285.28 L429.10 285.21 L429.60 285.14 L430.10 285.08 L430.60 285.02 L431.10 284.96 L431.60 284.91 L432.10 284.85 L432.60 284.81 L433.10 284.76 L433.60 284.72 L434.10 284.69 L434.60 284.65 L435.10 284.63 L435.60 284.60 L436.10 284.58 L436.60 284.55 L437.10 284.53 L437.60 284.51 L438.10 284.48 L438.60 284.46 L439.10 284.44 L439.60 284.42 L440.10 284.41 L440.60 284.39 L441.10 284.37 L441.60 284.36 L442.10 284.34 L442.60 284.33 L443.10 284.32 L443.60 284.31 L444.10 284.31 L444.60 284.30 L445.10 284.30 L445.60 284.30 L446.10 284.30 L446.60 284.30 L447.10 284.30 L447.60 284.30 L448.10 284.30 L448.60 284.30 L449.10 284.30 L449.60 284.30 L450.10 284.30 L450.60 284.30 L451.10 284.30 L451.60 284.30 L452.10 284.30 L452.60 284.30 L453.10 284.30 L453.60 284.30 L454.10 284.30 L454.60 284.30 L455.10 284.30 L455.60 284.30 L456.10 284.30 L456.60 284.30 L457.10 284.30 L457.60 284.30 L458.10 284.30 L458.60 284.30 L459.10 284.30 L459.60 284.30 L460.10 284.30 L460.60 284.30 L461.10 284.30 L461.60 284.30 L462.10 284.30 L462.60 284.30 L463.10 284.30 L463.60 284.30 L464.10 284.30 L464.60 284.30 L465.10 284.30 L465.60 284.30 L466.10 284.30 L466.60 284.30 L467.10 284.30 L467.60 284.30 L468.10 284.30 L468.60 284.30 L469.10 284.30 L469.60 284.30 L470.10 284.30 L470.60 284.30 L471.10 284.30 L471.60 284.30" fill="none" stroke="#8a88c8" stroke-width="0.9"/>
<path d="M400.60 312.20 L401.10 312.93 L401.60 313.66 L402.10 314.39 L402.60 315.13 L403.10 315.87 L403.60 316.61 L404.10 317.36 L404.60 318.12 L405.10 318.87 L405.60 319.63 L406.10 320.39 L406.60 321.16 L407.10 321.93 L407.60 322.73 L408.10 323.55 L408.60 324.39 L409.10 325.22 L409.60 326.05 L410.10 326.85 L410.60 327.63 L411.10 328.37 L411.60 329.05 L412.10 329.69 L412.60 330.32 L413.10 330.93 L413.60 331.52 L414.10 332.09 L414.60 332.64 L415.10 333.16 L415.60 333.64 L416.10 334.09 L416.60 334.51 L417.10 334.91 L417.60 335.28 L418.10 335.65 L418.60 335.99 L419.10 336.32 L419.60 336.62 L420.10 336.91 L420.60 337.18 L421.10 337.43 L421.60 337.65 L422.10 337.87 L422.60 338.09 L423.10 338.29 L423.60 338.48 L424.10 338.66 L424.60 338.82 L425.10 338.96 L425.60 339.08 L426.10 339.18 L426.60 339.27 L427.10 339.36 L427.60 339.45 L428.10 339.53 L428.60 339.60 L429.10 339.68 L429.60 339.74 L430.10 339.81 L430.60 339.87 L431.10 339.93 L431.60 339.99 L432.10 340.04 L432.60 340.09 L433.10 340.13 L433.60 340.17 L434.10 340.21 L434.60 340.24 L435.10 340.27 L435.60 340.30 L436.10 340.32 L436.60 340.35 L437.10 340.37 L437.60 340.39 L438.10 340.41 L438.60 340.44 L439.10 340.46 L439.60 340.48 L440.10 340.50 L440.60 340.51 L441.10 340.53 L441.60 340.54 L442.10 340.56 L442.60 340.57 L443.10 340.58 L443.60 340.59 L444.10 340.60 L444.60 340.60 L445.10 340.60 L445.60 340.61 L446.10 340.61 L446.60 340.61 L447.10 340.61 L447.60 340.61 L448.10 340.61 L448.60 340.61 L449.10 340.61 L449.60 340.61 L450.10 340.61 L450.60 340.61 L451.10 340.61 L451.60 340.61 L452.10 340.61 L452.60 340.61 L453.10 340.61 L453.60 340.61 L454.10 340.61 L454.60 340.61 L455.10 340.61 L455.60 340.61 L456.10 340.61 L456.60 340.61 L457.10 340.61 L457.60 340.61 L458.10 340.61 L458.60 340.61 L459.10 340.61 L459.60 340.61 L460.10 340.61 L460.60 340.61 L461.10 340.61 L461.60 340.61 L462.10 340.61 L462.60 340.61 L463.10 340.61 L463.60 340.61 L464.10 340.61 L464.60 340.61 L465.10 340.61 L465.60 340.61 L466.10 340.61 L466.60 340.61 L467.10 340.61 L467.60 340.61 L468.10 340.61 L468.60 340.61 L469.10 340.61 L469.60 340.61 L470.10 340.61 L470.60 340.61 L471.10 340.61 L471.60 340.61" fill="none" stroke="#8a88c8" stroke-width="0.9"/>
<path d="M400.80 312.20 L401.30 311.64 L401.80 311.07 L402.30 310.49 L402.80 309.91 L403.30 309.32 L403.80 308.73 L404.30 308.14 L404.80 307.54 L405.30 306.93 L405.80 306.32 L406.30 305.71 L406.80 305.09 L407.30 304.46 L407.80 303.82 L408.30 303.15 L408.80 302.48 L409.30 301.80 L409.80 301.12 L410.30 300.45 L410.80 299.80 L411.30 299.18 L411.80 298.58 L412.30 298.01 L412.80 297.44 L413.30 296.88 L413.80 296.32 L414.30 295.79 L414.80 295.27 L415.30 294.78 L415.80 294.31 L416.30 293.88 L416.80 293.48 L417.30 293.12 L417.80 292.76 L418.30 292.43 L418.80 292.11 L419.30 291.81 L419.80 291.52 L420.30 291.24 L420.80 290.97 L421.30 290.72 L421.80 290.47 L422.30 290.23 L422.80 289.99 L423.30 289.76 L423.80 289.53 L424.30 289.32 L424.80 289.13 L425.30 288.94 L425.80 288.78 L426.30 288.63 L426.80 288.49 L427.30 288.35 L427.80 288.21 L428.30 288.08 L428.80 287.95 L429.30 287.82 L429.80 287.70 L430.30 287.58 L430.80 287.47 L431.30 287.36 L431.80 287.26 L432.30 287.17 L432.80 287.08 L433.30 286.99 L433.80 286.92 L434.30 286.85 L434.80 286.79 L435.30 286.74 L435.80 286.69 L436.30 286.65 L436.80 286.62 L437.30 286.58 L437.80 286.54 L438.30 286.51 L438.80 286.47 L439.30 286.44 L439.80 286.41 L440.30 286.38 L440.80 286.35 L441.30 286.32 L441.80 286.30 L442.30 286.28 L442.80 286.26 L443.30 286.24 L443.80 286.23 L444.30 286.22 L444.80 286.21 L445.30 286.21 L445.80 286.20 L446.30 286.20 L446.80 286.20 L447.30 286.20 L447.80 286.20 L448.30 286.20 L448.80 286.20 L449.30 286.20 L449.80 286.20 L450.30 286.20 L450.80 286.20 L451.30 286.20 L451.80 286.20 L452.30 286.20 L452.80 286.20 L453.30 286.20 L453.80 286.20 L454.30 286.20 L454.80 286.20 L455.30 286.20 L455.80 286.20 L456.30 286.20 L456.80 286.20 L457.30 286.20 L457.80 286.20 L458.30 286.20 L458.80 286.20 L459.30 286.20 L459.80 286.20 L460.30 286.20 L460.80 286.20 L461.30 286.20 L461.80 286.20 L462.30 286.20 L462.80 286.20 L463.30 286.20 L463.80 286.20 L464.30 286.20 L464.80 286.20 L465.30 286.20 L465.80 286.20 L466.30 286.20 L466.80 286.20 L467.30 286.20 L467.80 286.20 L468.30 286.20 L468.80 286.20 L469.30 286.20 L469.80 286.20 L470.30 286.20 L470.80 286.20 L471.30 286.20 L471.80 286.20" fill="none" stroke="#2a7058" stroke-width="1.0"/>
<path d="M400.80 312.20 L401.30 312.79 L401.80 313.38 L402.30 313.98 L402.80 314.58 L403.30 315.19 L403.80 315.80 L404.30 316.42 L404.80 317.05 L405.30 317.68 L405.80 318.31 L406.30 318.95 L406.80 319.59 L407.30 320.24 L407.80 320.92 L408.30 321.61 L408.80 322.31 L409.30 323.02 L409.80 323.72 L410.30 324.42 L410.80 325.09 L411.30 325.74 L411.80 326.36 L412.30 326.96 L412.80 327.55 L413.30 328.14 L413.80 328.71 L414.30 329.27 L414.80 329.81 L415.30 330.32 L415.80 330.80 L416.30 331.25 L416.80 331.66 L417.30 332.05 L417.80 332.41 L418.30 332.76 L418.80 333.09 L419.30 333.41 L419.80 333.71 L420.30 334.00 L420.80 334.27 L421.30 334.54 L421.80 334.80 L422.30 335.05 L422.80 335.30 L423.30 335.54 L423.80 335.77 L424.30 335.99 L424.80 336.20 L425.30 336.39 L425.80 336.56 L426.30 336.72 L426.80 336.86 L427.30 337.01 L427.80 337.15 L428.30 337.29 L428.80 337.42 L429.30 337.55 L429.80 337.68 L430.30 337.80 L430.80 337.92 L431.30 338.03 L431.80 338.13 L432.30 338.23 L432.80 338.33 L433.30 338.41 L433.80 338.49 L434.30 338.56 L434.80 338.63 L435.30 338.68 L435.80 338.73 L436.30 338.77 L436.80 338.81 L437.30 338.85 L437.80 338.89 L438.30 338.92 L438.80 338.96 L439.30 338.99 L439.80 339.02 L440.30 339.06 L440.80 339.08 L441.30 339.11 L441.80 339.14 L442.30 339.16 L442.80 339.18 L443.30 339.20 L443.80 339.21 L444.30 339.22 L444.80 339.23 L445.30 339.23 L445.80 339.24 L446.30 339.24 L446.80 339.24 L447.30 339.24 L447.80 339.24 L448.30 339.24 L448.80 339.24 L449.30 339.24 L449.80 339.24 L450.30 339.24 L450.80 339.24 L451.30 339.24 L451.80 339.24 L452.30 339.24 L452.80 339.24 L453.30 339.24 L453.80 339.24 L454.30 339.24 L454.80 339.24 L455.30 339.24 L455.80 339.24 L456.30 339.24 L456.80 339.24 L457.30 339.24 L457.80 339.24 L458.30 339.24 L458.80 339.24 L459.30 339.24 L459.80 339.24 L460.30 339.24 L460.80 339.24 L461.30 339.24 L461.80 339.24 L462.30 339.24 L462.80 339.24 L463.30 339.24 L463.80 339.24 L464.30 339.24 L464.80 339.24 L465.30 339.24 L465.80 339.24 L466.30 339.24 L466.80 339.24 L467.30 339.24 L467.80 339.24 L468.30 339.24 L468.80 339.24 L469.30 339.24 L469.80 339.24 L470.30 339.24 L470.80 339.24 L471.30 339.24 L471.80 339.24" fill="none" stroke="#2a7058" stroke-width="1.0"/>
<path d="M382.00 312.20 L382.50 311.42 L383.00 310.57 L383.50 309.67 L384.00 308.72 L384.50 307.72 L385.00 306.66 L385.50 305.48 L386.00 304.18 L386.50 302.84 L387.00 301.51 L387.50 300.26 L388.00 299.15 L388.50 298.10 L389.00 297.09 L389.50 296.13 L390.00 295.22 L390.50 294.38 L391.00 293.63 L391.50 292.92 L392.00 292.24 L392.50 291.60 L393.00 290.99 L393.50 290.42 L394.00 289.90 L394.50 289.41 L395.00 288.97 L395.50 288.56 L396.00 288.16 L396.50 287.78 L397.00 287.42 L397.50 287.08 L398.00 286.76 L398.50 286.46 L399.00 286.20 L399.50 285.96 L400.00 285.75 L400.50 285.56 L401.00 285.38 L401.50 285.20 L402.00 285.04 L402.50 284.88 L403.00 284.72 L403.50 284.58 L404.00 284.44 L404.50 284.31 L405.00 284.19 L405.50 284.08 L406.00 283.98 L406.50 283.89 L407.00 283.81 L407.50 283.74 L408.00 283.68 L408.50 283.62 L409.00 283.57 L409.50 283.52 L410.00 283.47 L410.50 283.42 L411.00 283.38 L411.50 283.34 L412.00 283.30 L412.50 283.26 L413.00 283.22 L413.50 283.19 L414.00 283.16 L414.50 283.13 L415.00 283.10 L415.50 283.08 L416.00 283.05 L416.50 283.03 L417.00 283.02 L417.50 283.00 L418.00 282.99 L418.50 282.98 L419.00 282.97 L419.50 282.97 L420.00 282.96 L420.50 282.95 L421.00 282.94 L421.50 282.94 L422.00 282.93 L422.50 282.93 L423.00 282.92 L423.50 282.91 L424.00 282.91 L424.50 282.91 L425.00 282.90 L425.50 282.90 L426.00 282.90 L426.50 282.89 L427.00 282.89 L427.50 282.89 L428.00 282.89 L428.50 282.89 L429.00 282.89 L429.50 282.89 L430.00 282.89 L430.50 282.89 L431.00 282.89 L431.50 282.89 L432.00 282.89 L432.50 282.89 L433.00 282.89 L433.50 282.89 L434.00 282.89 L434.50 282.89 L435.00 282.89 L435.50 282.89 L436.00 282.89 L436.50 282.89 L437.00 282.89 L437.50 282.89 L438.00 282.89 L438.50 282.89 L439.00 282.89 L439.50 282.89 L440.00 282.89 L440.50 282.89 L441.00 282.89 L441.50 282.89 L442.00 282.89 L442.50 282.89 L443.00 282.89 L443.50 282.89 L444.00 282.89 L444.50 282.89 L445.00 282.89 L445.50 282.89 L446.00 282.89 L446.50 282.89 L447.00 282.89 L447.50 282.89 L448.00 282.89 L448.50 282.89 L449.00 282.89 L449.50 282.89 L450.00 282.89 L450.50 282.89 L451.00 282.89 L451.50 282.89 L452.00 282.89 L452.50 282.89 L453.00 282.89 L453.50 282.89 L454.00 282.89 L454.50 282.89 L455.00 282.89 L455.50 282.89 L456.00 282.89 L456.50 282.89 L457.00 282.89 L457.50 282.89 L458.00 282.89 L458.50 282.89 L459.00 282.89 L459.50 282.89 L460.00 282.89 L460.50 282.89 L461.00 282.89 L461.50 282.89 L462.00 282.89 L462.50 282.89 L463.00 282.89 L463.50 282.89 L464.00 282.89 L464.50 282.89 L465.00 282.89 L465.50 282.89 L466.00 282.89 L466.50 282.89 L467.00 282.89 L467.50 282.89 L468.00 282.89 L468.50 282.89 L469.00 282.89 L469.50 282.89 L470.00 282.89 L470.50 282.89 L471.00 282.89 L471.50 282.89 L472.00 282.89" fill="none" stroke="#6a3a22" stroke-width="0.9"/>
<path d="M382.00 312.20 L382.50 312.98 L383.00 313.83 L383.50 314.73 L384.00 315.68 L384.50 316.68 L385.00 317.74 L385.50 318.92 L386.00 320.22 L386.50 321.56 L387.00 322.89 L387.50 324.14 L388.00 325.25 L388.50 326.30 L389.00 327.31 L389.50 328.27 L390.00 329.18 L390.50 330.02 L391.00 330.77 L391.50 331.48 L392.00 332.16 L392.50 332.80 L393.00 333.41 L393.50 333.98 L394.00 334.50 L394.50 334.99 L395.00 335.43 L395.50 335.84 L396.00 336.24 L396.50 336.62 L397.00 336.98 L397.50 337.32 L398.00 337.64 L398.50 337.94 L399.00 338.20 L399.50 338.44 L400.00 338.65 L400.50 338.84 L401.00 339.02 L401.50 339.20 L402.00 339.36 L402.50 339.52 L403.00 339.68 L403.50 339.82 L404.00 339.96 L404.50 340.09 L405.00 340.21 L405.50 340.32 L406.00 340.42 L406.50 340.51 L407.00 340.59 L407.50 340.66 L408.00 340.72 L408.50 340.78 L409.00 340.83 L409.50 340.88 L410.00 340.93 L410.50 340.98 L411.00 341.02 L411.50 341.06 L412.00 341.10 L412.50 341.14 L413.00 341.18 L413.50 341.21 L414.00 341.24 L414.50 341.27 L415.00 341.30 L415.50 341.32 L416.00 341.35 L416.50 341.37 L417.00 341.38 L417.50 341.40 L418.00 341.41 L418.50 341.42 L419.00 341.43 L419.50 341.43 L420.00 341.44 L420.50 341.45 L421.00 341.46 L421.50 341.46 L422.00 341.47 L422.50 341.47 L423.00 341.48 L423.50 341.49 L424.00 341.49 L424.50 341.49 L425.00 341.50 L425.50 341.50 L426.00 341.50 L426.50 341.51 L427.00 341.51 L427.50 341.51 L428.00 341.51 L428.50 341.51 L429.00 341.51 L429.50 341.51 L430.00 341.51 L430.50 341.51 L431.00 341.51 L431.50 341.51 L432.00 341.51 L432.50 341.51 L433.00 341.51 L433.50 341.51 L434.00 341.51 L434.50 341.51 L435.00 341.51 L435.50 341.51 L436.00 341.51 L436.50 341.51 L437.00 341.51 L437.50 341.51 L438.00 341.51 L438.50 341.51 L439.00 341.51 L439.50 341.51 L440.00 341.51 L440.50 341.51 L441.00 341.51 L441.50 341.51 L442.00 341.51 L442.50 341.51 L443.00 341.51 L443.50 341.51 L444.00 341.51 L444.50 341.51 L445.00 341.51 L445.50 341.51 L446.00 341.51 L446.50 341.51 L447.00 341.51 L447.50 341.51 L448.00 341.51 L448.50 341.51 L449.00 341.51 L449.50 341.51 L450.00 341.51 L450.50 341.51 L451.00 341.51 L451.50 341.51 L452.00 341.51 L452.50 341.51 L453.00 341.51 L453.50 341.51 L454.00 341.51 L454.50 341.51 L455.00 341.51 L455.50 341.51 L456.00 341.51 L456.50 341.51 L457.00 341.51 L457.50 341.51 L458.00 341.51 L458.50 341.51 L459.00 341.51 L459.50 341.51 L460.00 341.51 L460.50 341.51 L461.00 341.51 L461.50 341.51 L462.00 341.51 L462.50 341.51 L463.00 341.51 L463.50 341.51 L464.00 341.51 L464.50 341.51 L465.00 341.51 L465.50 341.51 L466.00 341.51 L466.50 341.51 L467.00 341.51 L467.50 341.51 L468.00 341.51 L468.50 341.51 L469.00 341.51 L469.50 341.51 L470.00 341.51 L470.50 341.51 L471.00 341.51 L471.50 341.51 L472.00 341.51" fill="none" stroke="#6a3a22" stroke-width="0.9"/>
<path d="M382.00 312.20 L382.50 311.31 L383.00 310.35 L383.50 309.31 L384.00 308.22 L384.50 307.06 L385.00 305.81 L385.50 304.39 L386.00 302.88 L386.50 301.36 L387.00 299.92 L387.50 298.63 L388.00 297.45 L388.50 296.30 L389.00 295.22 L389.50 294.21 L390.00 293.28 L390.50 292.45 L391.00 291.66 L391.50 290.91 L392.00 290.21 L392.50 289.55 L393.00 288.94 L393.50 288.39 L394.00 287.89 L394.50 287.42 L395.00 286.97 L395.50 286.54 L396.00 286.14 L396.50 285.76 L397.00 285.41 L397.50 285.09 L398.00 284.81 L398.50 284.56 L399.00 284.34 L399.50 284.14 L400.00 283.94 L400.50 283.75 L401.00 283.57 L401.50 283.40 L402.00 283.23 L402.50 283.08 L403.00 282.94 L403.50 282.81 L404.00 282.69 L404.50 282.58 L405.00 282.49 L405.50 282.41 L406.00 282.34 L406.50 282.27 L407.00 282.22 L407.50 282.16 L408.00 282.10 L408.50 282.05 L409.00 282.00 L409.50 281.96 L410.00 281.91 L410.50 281.87 L411.00 281.83 L411.50 281.79 L412.00 281.76 L412.50 281.73 L413.00 281.70 L413.50 281.68 L414.00 281.66 L414.50 281.64 L415.00 281.62 L415.50 281.61 L416.00 281.60 L416.50 281.59 L417.00 281.58 L417.50 281.58 L418.00 281.57 L418.50 281.56 L419.00 281.55 L419.50 281.55 L420.00 281.54 L420.50 281.53 L421.00 281.53 L421.50 281.52 L422.00 281.52 L422.50 281.52 L423.00 281.51 L423.50 281.51 L424.00 281.51 L424.50 281.51 L425.00 281.51 L425.50 281.51 L426.00 281.51 L426.50 281.51 L427.00 281.51 L427.50 281.51 L428.00 281.51 L428.50 281.51 L429.00 281.51 L429.50 281.51 L430.00 281.51 L430.50 281.51 L431.00 281.51 L431.50 281.51 L432.00 281.51 L432.50 281.51 L433.00 281.51 L433.50 281.51 L434.00 281.51 L434.50 281.51 L435.00 281.51 L435.50 281.51 L436.00 281.51 L436.50 281.51 L437.00 281.51 L437.50 281.51 L438.00 281.51 L438.50 281.51 L439.00 281.51 L439.50 281.51 L440.00 281.51 L440.50 281.51 L441.00 281.51 L441.50 281.51 L442.00 281.51 L442.50 281.51 L443.00 281.51 L443.50 281.51 L444.00 281.51 L444.50 281.51 L445.00 281.51 L445.50 281.51 L446.00 281.51 L446.50 281.51 L447.00 281.51 L447.50 281.51 L448.00 281.51 L448.50 281.51 L449.00 281.51 L449.50 281.51 L450.00 281.51 L450.50 281.51 L451.00 281.51 L451.50 281.51 L452.00 281.51 L452.50 281.51 L453.00 281.51 L453.50 281.51 L454.00 281.51 L454.50 281.51 L455.00 281.51 L455.50 281.51 L456.00 281.51 L456.50 281.51 L457.00 281.51 L457.50 281.51 L458.00 281.51 L458.50 281.51 L459.00 281.51 L459.50 281.51 L460.00 281.51 L460.50 281.51 L461.00 281.51 L461.50 281.51 L462.00 281.51 L462.50 281.51 L463.00 281.51 L463.50 281.51 L464.00 281.51 L464.50 281.51 L465.00 281.51 L465.50 281.51 L466.00 281.51 L466.50 281.51 L467.00 281.51 L467.50 281.51 L468.00 281.51 L468.50 281.51 L469.00 281.51 L469.50 281.51 L470.00 281.51 L470.50 281.51 L471.00 281.51 L471.50 281.51 L472.00 281.51" fill="none" stroke="#c0408a" stroke-width="0.9"/>
<path d="M382.00 312.20 L382.50 313.08 L383.00 314.04 L383.50 315.06 L384.00 316.14 L384.50 317.29 L385.00 318.53 L385.50 319.94 L386.00 321.43 L386.50 322.93 L387.00 324.36 L387.50 325.63 L388.00 326.81 L388.50 327.94 L389.00 329.01 L389.50 330.01 L390.00 330.93 L390.50 331.75 L391.00 332.53 L391.50 333.27 L392.00 333.97 L392.50 334.62 L393.00 335.22 L393.50 335.77 L394.00 336.27 L394.50 336.73 L395.00 337.18 L395.50 337.60 L396.00 338.00 L396.50 338.37 L397.00 338.72 L397.50 339.04 L398.00 339.32 L398.50 339.57 L399.00 339.78 L399.50 339.98 L400.00 340.18 L400.50 340.37 L401.00 340.55 L401.50 340.72 L402.00 340.88 L402.50 341.03 L403.00 341.17 L403.50 341.30 L404.00 341.41 L404.50 341.52 L405.00 341.61 L405.50 341.70 L406.00 341.77 L406.50 341.83 L407.00 341.88 L407.50 341.94 L408.00 341.99 L408.50 342.05 L409.00 342.10 L409.50 342.14 L410.00 342.19 L410.50 342.23 L411.00 342.27 L411.50 342.30 L412.00 342.34 L412.50 342.37 L413.00 342.39 L413.50 342.42 L414.00 342.44 L414.50 342.46 L415.00 342.47 L415.50 342.48 L416.00 342.49 L416.50 342.50 L417.00 342.51 L417.50 342.52 L418.00 342.53 L418.50 342.53 L419.00 342.54 L419.50 342.55 L420.00 342.55 L420.50 342.56 L421.00 342.56 L421.50 342.57 L422.00 342.57 L422.50 342.58 L423.00 342.58 L423.50 342.58 L424.00 342.58 L424.50 342.58 L425.00 342.58 L425.50 342.58 L426.00 342.58 L426.50 342.58 L427.00 342.58 L427.50 342.58 L428.00 342.58 L428.50 342.58 L429.00 342.58 L429.50 342.58 L430.00 342.58 L430.50 342.58 L431.00 342.58 L431.50 342.58 L432.00 342.58 L432.50 342.58 L433.00 342.58 L433.50 342.58 L434.00 342.58 L434.50 342.58 L435.00 342.58 L435.50 342.58 L436.00 342.58 L436.50 342.58 L437.00 342.58 L437.50 342.58 L438.00 342.58 L438.50 342.58 L439.00 342.58 L439.50 342.58 L440.00 342.58 L440.50 342.58 L441.00 342.58 L441.50 342.58 L442.00 342.58 L442.50 342.58 L443.00 342.58 L443.50 342.58 L444.00 342.58 L444.50 342.58 L445.00 342.58 L445.50 342.58 L446.00 342.58 L446.50 342.58 L447.00 342.58 L447.50 342.58 L448.00 342.58 L448.50 342.58 L449.00 342.58 L449.50 342.58 L450.00 342.58 L450.50 342.58 L451.00 342.58 L451.50 342.58 L452.00 342.58 L452.50 342.58 L453.00 342.58 L453.50 342.58 L454.00 342.58 L454.50 342.58 L455.00 342.58 L455.50 342.58 L456.00 342.58 L456.50 342.58 L457.00 342.58 L457.50 342.58 L458.00 342.58 L458.50 342.58 L459.00 342.58 L459.50 342.58 L460.00 342.58 L460.50 342.58 L461.00 342.58 L461.50 342.58 L462.00 342.58 L462.50 342.58 L463.00 342.58 L463.50 342.58 L464.00 342.58 L464.50 342.58 L465.00 342.58 L465.50 342.58 L466.00 342.58 L466.50 342.58 L467.00 342.58 L467.50 342.58 L468.00 342.58 L468.50 342.58 L469.00 342.58 L469.50 342.58 L470.00 342.58 L470.50 342.58 L471.00 342.58 L471.50 342.58 L472.00 342.58" fill="none" stroke="#c0408a" stroke-width="0.9"/>
<path d="M382.00 312.20 L382.50 311.37 L383.00 310.46 L383.50 309.50 L384.00 308.47 L384.50 307.40 L385.00 306.24 L385.50 304.94 L386.00 303.53 L386.50 302.10 L387.00 300.72 L387.50 299.46 L388.00 298.33 L388.50 297.24 L389.00 296.20 L389.50 295.22 L390.00 294.31 L390.50 293.49 L391.00 292.73 L391.50 292.01 L392.00 291.32 L392.50 290.68 L393.00 290.08 L393.50 289.52 L394.00 289.02 L394.50 288.56 L395.00 288.12 L395.50 287.71 L396.00 287.31 L396.50 286.93 L397.00 286.58 L397.50 286.25 L398.00 285.95 L398.50 285.69 L399.00 285.45 L399.50 285.25 L400.00 285.06 L400.50 284.87 L401.00 284.69 L401.50 284.52 L402.00 284.36 L402.50 284.20 L403.00 284.06 L403.50 283.92 L404.00 283.80 L404.50 283.68 L405.00 283.58 L405.50 283.48 L406.00 283.40 L406.50 283.33 L407.00 283.27 L407.50 283.21 L408.00 283.16 L408.50 283.11 L409.00 283.06 L409.50 283.01 L410.00 282.96 L410.50 282.92 L411.00 282.88 L411.50 282.84 L412.00 282.80 L412.50 282.77 L413.00 282.74 L413.50 282.71 L414.00 282.68 L414.50 282.66 L415.00 282.64 L415.50 282.62 L416.00 282.61 L416.50 282.60 L417.00 282.59 L417.50 282.58 L418.00 282.57 L418.50 282.57 L419.00 282.56 L419.50 282.55 L420.00 282.54 L420.50 282.54 L421.00 282.53 L421.50 282.53 L422.00 282.52 L422.50 282.52 L423.00 282.51 L423.50 282.51 L424.00 282.51 L424.50 282.50 L425.00 282.50 L425.50 282.50 L426.00 282.50 L426.50 282.50 L427.00 282.50 L427.50 282.50 L428.00 282.50 L428.50 282.50 L429.00 282.50 L429.50 282.50 L430.00 282.50 L430.50 282.50 L431.00 282.50 L431.50 282.50 L432.00 282.50 L432.50 282.50 L433.00 282.50 L433.50 282.50 L434.00 282.50 L434.50 282.50 L435.00 282.50 L435.50 282.50 L436.00 282.50 L436.50 282.50 L437.00 282.50 L437.50 282.50 L438.00 282.50 L438.50 282.50 L439.00 282.50 L439.50 282.50 L440.00 282.50 L440.50 282.50 L441.00 282.50 L441.50 282.50 L442.00 282.50 L442.50 282.50 L443.00 282.50 L443.50 282.50 L444.00 282.50 L444.50 282.50 L445.00 282.50 L445.50 282.50 L446.00 282.50 L446.50 282.50 L447.00 282.50 L447.50 282.50 L448.00 282.50 L448.50 282.50 L449.00 282.50 L449.50 282.50 L450.00 282.50 L450.50 282.50 L451.00 282.50 L451.50 282.50 L452.00 282.50 L452.50 282.50 L453.00 282.50 L453.50 282.50 L454.00 282.50 L454.50 282.50 L455.00 282.50 L455.50 282.50 L456.00 282.50 L456.50 282.50 L457.00 282.50 L457.50 282.50 L458.00 282.50 L458.50 282.50 L459.00 282.50 L459.50 282.50 L460.00 282.50 L460.50 282.50 L461.00 282.50 L461.50 282.50 L462.00 282.50 L462.50 282.50 L463.00 282.50 L463.50 282.50 L464.00 282.50 L464.50 282.50 L465.00 282.50 L465.50 282.50 L466.00 282.50 L466.50 282.50 L467.00 282.50 L467.50 282.50 L468.00 282.50 L468.50 282.50 L469.00 282.50 L469.50 282.50 L470.00 282.50 L470.50 282.50 L471.00 282.50 L471.50 282.50 L472.00 282.50" fill="none" stroke="#a0223c" stroke-width="1.0"/>
<path d="M382.00 312.20 L382.50 313.03 L383.00 313.94 L383.50 314.90 L384.00 315.93 L384.50 317.00 L385.00 318.16 L385.50 319.46 L386.00 320.87 L386.50 322.30 L387.00 323.68 L387.50 324.94 L388.00 326.07 L388.50 327.16 L389.00 328.20 L389.50 329.18 L390.00 330.09 L390.50 330.91 L391.00 331.67 L391.50 332.39 L392.00 333.08 L392.50 333.72 L393.00 334.32 L393.50 334.88 L394.00 335.38 L394.50 335.84 L395.00 336.28 L395.50 336.69 L396.00 337.09 L396.50 337.47 L397.00 337.82 L397.50 338.15 L398.00 338.45 L398.50 338.71 L399.00 338.95 L399.50 339.15 L400.00 339.34 L400.50 339.53 L401.00 339.71 L401.50 339.88 L402.00 340.04 L402.50 340.20 L403.00 340.34 L403.50 340.48 L404.00 340.60 L404.50 340.72 L405.00 340.82 L405.50 340.92 L406.00 341.00 L406.50 341.07 L407.00 341.13 L407.50 341.19 L408.00 341.24 L408.50 341.29 L409.00 341.34 L409.50 341.39 L410.00 341.44 L410.50 341.48 L411.00 341.52 L411.50 341.56 L412.00 341.60 L412.50 341.63 L413.00 341.66 L413.50 341.69 L414.00 341.72 L414.50 341.74 L415.00 341.76 L415.50 341.78 L416.00 341.79 L416.50 341.80 L417.00 341.81 L417.50 341.82 L418.00 341.83 L418.50 341.83 L419.00 341.84 L419.50 341.85 L420.00 341.86 L420.50 341.86 L421.00 341.87 L421.50 341.87 L422.00 341.88 L422.50 341.88 L423.00 341.89 L423.50 341.89 L424.00 341.89 L424.50 341.90 L425.00 341.90 L425.50 341.90 L426.00 341.90 L426.50 341.90 L427.00 341.90 L427.50 341.90 L428.00 341.90 L428.50 341.90 L429.00 341.90 L429.50 341.90 L430.00 341.90 L430.50 341.90 L431.00 341.90 L431.50 341.90 L432.00 341.90 L432.50 341.90 L433.00 341.90 L433.50 341.90 L434.00 341.90 L434.50 341.90 L435.00 341.90 L435.50 341.90 L436.00 341.90 L436.50 341.90 L437.00 341.90 L437.50 341.90 L438.00 341.90 L438.50 341.90 L439.00 341.90 L439.50 341.90 L440.00 341.90 L440.50 341.90 L441.00 341.90 L441.50 341.90 L442.00 341.90 L442.50 341.90 L443.00 341.90 L443.50 341.90 L444.00 341.90 L444.50 341.90 L445.00 341.90 L445.50 341.90 L446.00 341.90 L446.50 341.90 L447.00 341.90 L447.50 341.90 L448.00 341.90 L448.50 341.90 L449.00 341.90 L449.50 341.90 L450.00 341.90 L450.50 341.90 L451.00 341.90 L451.50 341.90 L452.00 341.90 L452.50 341.90 L453.00 341.90 L453.50 341.90 L454.00 341.90 L454.50 341.90 L455.00 341.90 L455.50 341.90 L456.00 341.90 L456.50 341.90 L457.00 341.90 L457.50 341.90 L458.00 341.90 L458.50 341.90 L459.00 341.90 L459.50 341.90 L460.00 341.90 L460.50 341.90 L461.00 341.90 L461.50 341.90 L462.00 341.90 L462.50 341.90 L463.00 341.90 L463.50 341.90 L464.00 341.90 L464.50 341.90 L465.00 341.90 L465.50 341.90 L466.00 341.90 L466.50 341.90 L467.00 341.90 L467.50 341.90 L468.00 341.90 L468.50 341.90 L469.00 341.90 L469.50 341.90 L470.00 341.90 L470.50 341.90 L471.00 341.90 L471.50 341.90 L472.00 341.90" fill="none" stroke="#a0223c" stroke-width="1.0"/>
<text x="6.90" y="372.50" font-size="11.6" fill="#111" font-weight="bold">G</text>
<line x1="47.40" y1="382.50" x2="47.40" y2="493.00" stroke="#222" stroke-width="1.15"/>
<line x1="44.40" y1="492.50" x2="47.40" y2="492.50" stroke="#222" stroke-width="1.0"/>
<text x="40.80" y="495.48" font-size="8.4" fill="#333" stroke="#333" stroke-width="0.18" text-anchor="end" textLength="4.20" lengthAdjust="spacingAndGlyphs">0</text>
<line x1="44.40" y1="456.65" x2="47.40" y2="456.65" stroke="#222" stroke-width="1.0"/>
<text x="40.80" y="459.63" font-size="8.4" fill="#333" stroke="#333" stroke-width="0.18" text-anchor="end" textLength="4.20" lengthAdjust="spacingAndGlyphs">5</text>
<line x1="44.40" y1="420.80" x2="47.40" y2="420.80" stroke="#222" stroke-width="1.0"/>
<text x="40.80" y="423.78" font-size="8.4" fill="#333" stroke="#333" stroke-width="0.18" text-anchor="end" textLength="8.40" lengthAdjust="spacingAndGlyphs">10</text>
<line x1="44.40" y1="384.95" x2="47.40" y2="384.95" stroke="#222" stroke-width="1.0"/>
<text x="40.80" y="387.93" font-size="8.4" fill="#333" stroke="#333" stroke-width="0.18" text-anchor="end" textLength="8.40" lengthAdjust="spacingAndGlyphs">15</text>
<line x1="46.80" y1="492.50" x2="164.50" y2="492.50" stroke="#222" stroke-width="1.25"/>
<text x="15.10" y="437.40" font-size="9.6" fill="#3a3a3a" stroke="#3a3a3a" stroke-width="0.12" text-anchor="middle" textLength="91.80" lengthAdjust="spacingAndGlyphs" transform="rotate(-90 15.10 437.40)">Maximum rate of thrombin</text>
<text x="26.60" y="437.45" font-size="9.6" fill="#3a3a3a" stroke="#3a3a3a" stroke-width="0.12" text-anchor="middle" textLength="57.30" lengthAdjust="spacingAndGlyphs" transform="rotate(-90 26.60 437.45)">generation (min)</text>
<rect x="54.35" y="434.92" width="11.30" height="57.58" fill="#e6867a"/>
<rect x="72.80" y="425.39" width="11.30" height="67.11" fill="#f194c6"/>
<rect x="91.25" y="422.52" width="11.30" height="69.98" fill="#b08d70"/>
<rect x="109.70" y="461.10" width="11.30" height="31.40" fill="#abd49d"/>
<rect x="128.15" y="458.23" width="11.30" height="34.27" fill="#84a594"/>
<rect x="146.60" y="453.06" width="11.30" height="39.44" fill="#c3bfe5"/>
<line x1="60.00" y1="430.26" x2="60.00" y2="439.59" stroke="#2c1214" stroke-width="1.2"/>
<line x1="56.60" y1="430.26" x2="63.40" y2="430.26" stroke="#2c1214" stroke-width="1.2"/>
<line x1="56.60" y1="439.59" x2="63.40" y2="439.59" stroke="#2c1214" stroke-width="1.2"/>
<circle cx="60.00" cy="426.54" r="0.9" fill="#b02838"/>
<circle cx="60.00" cy="447.33" r="0.9" fill="#b02838"/>
<line x1="78.45" y1="418.79" x2="78.45" y2="431.99" stroke="#3a1230" stroke-width="1.2"/>
<line x1="75.05" y1="418.79" x2="81.85" y2="418.79" stroke="#3a1230" stroke-width="1.2"/>
<line x1="75.05" y1="431.99" x2="81.85" y2="431.99" stroke="#3a1230" stroke-width="1.2"/>
<circle cx="78.45" cy="410.76" r="0.9" fill="#b8307e"/>
<circle cx="78.45" cy="441.74" r="0.9" fill="#b8307e"/>
<line x1="96.90" y1="412.84" x2="96.90" y2="432.20" stroke="#241609" stroke-width="1.2"/>
<line x1="93.50" y1="412.84" x2="100.30" y2="412.84" stroke="#241609" stroke-width="1.2"/>
<line x1="93.50" y1="432.20" x2="100.30" y2="432.20" stroke="#241609" stroke-width="1.2"/>
<circle cx="96.90" cy="397.86" r="0.9" fill="#4a2c16"/>
<circle cx="96.90" cy="417.22" r="0.9" fill="#4a2c16"/>
<circle cx="96.90" cy="443.89" r="0.9" fill="#4a2c16"/>
<line x1="115.35" y1="458.51" x2="115.35" y2="463.68" stroke="#152515" stroke-width="1.2"/>
<line x1="111.95" y1="458.51" x2="118.75" y2="458.51" stroke="#152515" stroke-width="1.2"/>
<line x1="111.95" y1="463.68" x2="118.75" y2="463.68" stroke="#152515" stroke-width="1.2"/>
<circle cx="112.85" cy="457.73" r="0.9" fill="#2e7a32"/>
<circle cx="117.85" cy="457.73" r="0.9" fill="#2e7a32"/>
<circle cx="115.35" cy="465.18" r="0.9" fill="#2e7a32"/>
<line x1="133.80" y1="455.79" x2="133.80" y2="460.67" stroke="#10221a" stroke-width="1.2"/>
<line x1="130.40" y1="455.79" x2="137.20" y2="455.79" stroke="#10221a" stroke-width="1.2"/>
<line x1="130.40" y1="460.67" x2="137.20" y2="460.67" stroke="#10221a" stroke-width="1.2"/>
<circle cx="131.30" cy="454.64" r="0.9" fill="#1f4a38"/>
<circle cx="136.30" cy="454.64" r="0.9" fill="#1f4a38"/>
<circle cx="133.80" cy="460.95" r="0.9" fill="#1f4a38"/>
<line x1="152.25" y1="449.19" x2="152.25" y2="456.94" stroke="#1e1e30" stroke-width="1.2"/>
<line x1="148.85" y1="449.19" x2="155.65" y2="449.19" stroke="#1e1e30" stroke-width="1.2"/>
<line x1="148.85" y1="456.94" x2="155.65" y2="456.94" stroke="#1e1e30" stroke-width="1.2"/>
<circle cx="152.25" cy="443.39" r="0.9" fill="#585898"/>
<circle cx="152.25" cy="460.24" r="0.9" fill="#585898"/>
<path d="M60.00 383.50V380.50H133.80V383.50" fill="none" stroke="#3c3c3c" stroke-width="1.0"/>
<circle cx="96.90" cy="377.30" r="1.25" fill="#1a1a1a"/>
<path d="M60.00 394.50V391.50H115.35V394.50" fill="none" stroke="#3c3c3c" stroke-width="1.0"/>
<circle cx="87.67" cy="388.30" r="1.25" fill="#1a1a1a"/>
<text x="180.40" y="371.80" font-size="11.6" fill="#111" font-weight="bold">H</text>
<line x1="209.80" y1="374.50" x2="228.00" y2="374.50" stroke="#a8345a" stroke-width="1.05"/>
<text x="231.40" y="377.80" font-size="7.9" fill="#2a2a2a" stroke="#2a2a2a" stroke-width="0.22" textLength="23.50" lengthAdjust="spacingAndGlyphs">Vehicle</text>
<line x1="209.80" y1="386.50" x2="228.00" y2="386.50" stroke="#84c884" stroke-width="1.05"/>
<text x="231.40" y="389.12" font-size="7.9" fill="#2a2a2a" stroke="#2a2a2a" stroke-width="0.22" textLength="79.80" lengthAdjust="spacingAndGlyphs">Rivaroxaban 250 ng/mL</text>
<line x1="209.80" y1="397.50" x2="228.00" y2="397.50" stroke="#d064ac" stroke-width="1.05"/>
<text x="231.40" y="400.44" font-size="7.9" fill="#2a2a2a" stroke="#2a2a2a" stroke-width="0.22" textLength="49.50" lengthAdjust="spacingAndGlyphs">CS585 100 nM</text>
<line x1="209.80" y1="408.50" x2="228.00" y2="408.50" stroke="#72665a" stroke-width="1.05"/>
<text x="231.40" y="411.76" font-size="7.9" fill="#2a2a2a" stroke="#2a2a2a" stroke-width="0.22" textLength="41.40" lengthAdjust="spacingAndGlyphs">CS585 1 µM</text>
<line x1="209.80" y1="420.50" x2="228.00" y2="420.50" stroke="#306a5a" stroke-width="1.05"/>
<text x="231.40" y="423.08" font-size="7.9" fill="#2a2a2a" stroke="#2a2a2a" stroke-width="0.22" textLength="137.20" lengthAdjust="spacingAndGlyphs">CS585 100 nM + rivaroxaban 250 ng/mL</text>
<line x1="209.80" y1="431.50" x2="228.00" y2="431.50" stroke="#a8a6c4" stroke-width="1.05"/>
<text x="231.40" y="434.40" font-size="7.9" fill="#2a2a2a" stroke="#2a2a2a" stroke-width="0.22" textLength="128.60" lengthAdjust="spacingAndGlyphs">CS585 1 µM + rivaroxaban 250 ng/mL</text>
<path d="M209.00 452.80 L209.60 452.80 L210.20 452.80 L210.80 452.80 L211.40 452.80 L212.00 452.80 L212.60 452.80 L213.20 452.80 L213.80 452.80 L214.40 452.80 L215.00 452.80 L215.60 452.80 L216.20 452.80 L216.80 452.80 L217.40 452.80 L218.00 452.80 L218.60 452.80 L219.20 452.80 L219.80 452.80 L220.40 452.80 L221.00 452.80 L221.60 452.80 L222.20 452.80 L222.80 452.80 L223.40 452.80 L224.00 452.80 L224.60 452.80 L225.20 452.80 L225.80 452.80 L226.40 452.80 L227.00 452.61 L227.60 452.22 L228.20 451.70 L228.80 450.74 L229.40 449.43 L230.00 447.71 L230.60 445.53 L231.20 443.60 L231.80 441.79 L232.40 440.36 L233.00 439.45 L233.60 438.85 L234.20 438.85 L234.80 439.07 L235.40 439.35 L236.00 439.66 L236.60 440.05 L237.20 440.48 L237.80 440.88 L238.40 441.23 L239.00 441.56 L239.60 441.89 L240.20 442.21 L240.80 442.51 L241.40 442.81 L242.00 443.10 L242.60 443.38 L243.20 443.64 L243.80 443.91 L244.40 444.17 L245.00 444.42 L245.60 444.68 L246.20 444.93 L246.80 445.17 L247.40 445.41 L248.00 445.65 L248.60 445.88 L249.20 446.11 L249.80 446.33 L250.40 446.55 L251.00 446.76 L251.60 446.97 L252.20 447.17 L252.80 447.36 L253.40 447.55 L254.00 447.73 L254.60 447.90 L255.20 448.07 L255.80 448.23 L256.40 448.39 L257.00 448.55 L257.60 448.70 L258.20 448.85 L258.80 449.00 L259.40 449.15 L260.00 449.29 L260.60 449.42 L261.20 449.56 L261.80 449.68 L262.40 449.81 L263.00 449.93 L263.60 450.05 L264.20 450.16 L264.80 450.27 L265.40 450.37 L266.00 450.47 L266.60 450.56 L267.20 450.66 L267.80 450.75 L268.40 450.84 L269.00 450.93 L269.60 451.01 L270.20 451.10 L270.80 451.18 L271.40 451.26 L272.00 451.33 L272.60 451.41 L273.20 451.48 L273.80 451.55 L274.40 451.61 L275.00 451.67 L275.60 451.73 L276.20 451.78 L276.80 451.83 L277.40 451.88 L278.00 451.92 L278.60 451.96 L279.20 452.00 L279.80 452.04 L280.40 452.08 L281.00 452.11 L281.60 452.15 L282.20 452.19 L282.80 452.22 L283.40 452.25 L284.00 452.29 L284.60 452.32 L285.20 452.35 L285.80 452.38 L286.40 452.41 L287.00 452.44 L287.60 452.47 L288.20 452.49 L288.80 452.52 L289.40 452.55 L290.00 452.57 L290.60 452.60 L291.20 452.62 L291.80 452.64 L292.40 452.67 L293.00 452.69 L293.60 452.71 L294.20 452.73 L294.80 452.75 L295.40 452.77 L296.00 452.79 L296.60 452.81 L297.20 452.82 L297.80 452.84 L298.40 452.86 L299.00 452.87 L299.60 452.89 L300.20 452.90 L300.80 452.92 L301.40 452.93 L302.00 452.95 L302.60 452.96 L303.20 452.98 L303.80 452.99 L304.40 453.01 L305.00 453.02 L305.60 453.04 L306.20 453.05 L306.80 453.07 L307.40 453.08 L308.00 453.09 L308.60 453.11 L309.20 453.12 L309.80 453.14 L310.40 453.15 L311.00 453.16 L311.60 453.17 L312.20 453.19 L312.80 453.20 L313.40 453.21 L314.00 453.22 L314.60 453.24 L315.20 453.25 L315.80 453.26 L316.40 453.27 L317.00 453.28 L317.60 453.29 L318.20 453.30 L318.80 453.31 L319.40 453.32 L320.00 453.33 L320.60 453.33 L321.20 453.34 L321.80 453.35 L322.40 453.36 L323.00 453.36 L323.60 453.37 L324.20 453.37 L324.80 453.38 L325.40 453.38 L326.00 453.39 L326.60 453.39 L327.20 453.39 L327.80 453.40 L328.40 453.40 L329.00 453.40 L329.60 453.40 L330.20 453.40 L330.80 453.40 L331.40 453.40 L332.00 453.40 L332.60 453.40 L333.20 453.40 L333.80 453.40 L334.40 453.40 L335.00 453.40 L335.60 453.40 L336.20 453.40 L336.80 453.40 L337.40 453.40 L338.00 453.40 L338.60 453.40 L339.20 453.40 L339.80 453.40 L340.40 453.40 L341.00 453.40 L341.60 453.40 L342.20 453.40 L342.80 453.40 L343.40 453.40 L344.00 453.40 L344.60 453.40 L345.20 453.40 L345.80 453.40 L346.40 453.40 L347.00 453.39 L347.60 453.39 L348.20 453.39 L348.80 453.39 L349.40 453.39 L350.00 453.39 L350.60 453.39 L351.20 453.39 L351.80 453.39 L352.40 453.39 L353.00 453.39 L353.60 453.39 L354.20 453.39 L354.80 453.38 L355.40 453.38 L356.00 453.38 L356.60 453.38 L357.20 453.38 L357.80 453.38 L358.40 453.38 L359.00 453.37 L359.60 453.37 L360.20 453.37 L360.80 453.37 L361.40 453.37 L362.00 453.37 L362.60 453.36 L363.20 453.36 L363.80 453.36 L364.40 453.36 L365.00 453.36 L365.60 453.35 L366.20 453.35 L366.80 453.35 L367.40 453.35 L368.00 453.34 L368.60 453.34 L369.20 453.34 L369.80 453.33 L370.40 453.33 L371.00 453.33 L371.60 453.33 L372.20 453.32 L372.80 453.32 L373.40 453.32 L374.00 453.31 L374.60 453.31 L375.20 453.30 L375.80 453.30" fill="none" stroke="#b43a5e" stroke-width="1.2" stroke-linejoin="round"/>
<path d="M209.00 460.40 L209.60 460.40 L210.20 460.40 L210.80 460.40 L211.40 460.40 L212.00 460.40 L212.60 460.40 L213.20 460.40 L213.80 460.40 L214.40 460.40 L215.00 460.40 L215.60 460.40 L216.20 460.40 L216.80 460.40 L217.40 460.40 L218.00 460.40 L218.60 460.40 L219.20 460.40 L219.80 460.40 L220.40 460.40 L221.00 460.40 L221.60 460.40 L222.20 460.40 L222.80 460.40 L223.40 460.40 L224.00 460.40 L224.60 460.40 L225.20 460.40 L225.80 460.40 L226.40 460.40 L227.00 460.40 L227.60 460.40 L228.20 460.40 L228.80 460.40 L229.40 460.40 L230.00 460.40 L230.60 460.40 L231.20 460.40 L231.80 460.40 L232.40 460.40 L233.00 460.40 L233.60 460.40 L234.20 460.40 L234.80 460.40 L235.40 460.40 L236.00 460.40 L236.60 460.40 L237.20 460.40 L237.80 460.40 L238.40 460.40 L239.00 460.40 L239.60 460.40 L240.20 460.40 L240.80 460.40 L241.40 460.40 L242.00 460.40 L242.60 460.40 L243.20 460.40 L243.80 460.40 L244.40 460.40 L245.00 460.40 L245.60 460.40 L246.20 460.40 L246.80 460.40 L247.40 460.40 L248.00 460.40 L248.60 460.40 L249.20 460.40 L249.80 460.40 L250.40 460.40 L251.00 460.40 L251.60 460.40 L252.20 460.40 L252.80 460.40 L253.40 460.40 L254.00 460.40 L254.60 460.40 L255.20 460.40 L255.80 460.40 L256.40 460.40 L257.00 460.40 L257.60 460.40 L258.20 460.37 L258.80 460.30 L259.40 460.19 L260.00 460.06 L260.60 459.91 L261.20 459.73 L261.80 459.41 L262.40 458.96 L263.00 458.45 L263.60 457.92 L264.20 457.44 L264.80 456.95 L265.40 456.45 L266.00 455.96 L266.60 455.53 L267.20 455.13 L267.80 454.75 L268.40 454.39 L269.00 454.06 L269.60 453.77 L270.20 453.52 L270.80 453.29 L271.40 453.05 L272.00 452.83 L272.60 452.63 L273.20 452.47 L273.80 452.36 L274.40 452.30 L275.00 452.30 L275.60 452.32 L276.20 452.36 L276.80 452.41 L277.40 452.47 L278.00 452.54 L278.60 452.61 L279.20 452.69 L279.80 452.77 L280.40 452.86 L281.00 452.98 L281.60 453.13 L282.20 453.30 L282.80 453.49 L283.40 453.70 L284.00 453.92 L284.60 454.15 L285.20 454.38 L285.80 454.62 L286.40 454.85 L287.00 455.08 L287.60 455.30 L288.20 455.50 L288.80 455.69 L289.40 455.89 L290.00 456.09 L290.60 456.29 L291.20 456.50 L291.80 456.70 L292.40 456.90 L293.00 457.09 L293.60 457.27 L294.20 457.44 L294.80 457.60 L295.40 457.74 L296.00 457.86 L296.60 457.97 L297.20 458.07 L297.80 458.17 L298.40 458.27 L299.00 458.36 L299.60 458.45 L300.20 458.54 L300.80 458.63 L301.40 458.71 L302.00 458.79 L302.60 458.86 L303.20 458.94 L303.80 459.01 L304.40 459.08 L305.00 459.14 L305.60 459.21 L306.20 459.27 L306.80 459.32 L307.40 459.38 L308.00 459.43 L308.60 459.48 L309.20 459.53 L309.80 459.58 L310.40 459.62 L311.00 459.67 L311.60 459.71 L312.20 459.75 L312.80 459.78 L313.40 459.82 L314.00 459.86 L314.60 459.89 L315.20 459.93 L315.80 459.96 L316.40 459.99 L317.00 460.03 L317.60 460.06 L318.20 460.09 L318.80 460.12 L319.40 460.14 L320.00 460.17 L320.60 460.20 L321.20 460.22 L321.80 460.25 L322.40 460.27 L323.00 460.29 L323.60 460.31 L324.20 460.33 L324.80 460.35 L325.40 460.36 L326.00 460.38 L326.60 460.39 L327.20 460.41 L327.80 460.42 L328.40 460.43 L329.00 460.44 L329.60 460.46 L330.20 460.47 L330.80 460.48 L331.40 460.49 L332.00 460.51 L332.60 460.52 L333.20 460.53 L333.80 460.54 L334.40 460.55 L335.00 460.56 L335.60 460.58 L336.20 460.59 L336.80 460.60 L337.40 460.61 L338.00 460.62 L338.60 460.63 L339.20 460.64 L339.80 460.65 L340.40 460.66 L341.00 460.67 L341.60 460.68 L342.20 460.69 L342.80 460.70 L343.40 460.71 L344.00 460.72 L344.60 460.73 L345.20 460.74 L345.80 460.75 L346.40 460.76 L347.00 460.77 L347.60 460.78 L348.20 460.79 L348.80 460.80 L349.40 460.80 L350.00 460.81 L350.60 460.82 L351.20 460.83 L351.80 460.84 L352.40 460.84 L353.00 460.85 L353.60 460.86 L354.20 460.87 L354.80 460.87 L355.40 460.88 L356.00 460.89 L356.60 460.89 L357.20 460.90 L357.80 460.91 L358.40 460.91 L359.00 460.92 L359.60 460.92 L360.20 460.93 L360.80 460.93 L361.40 460.94 L362.00 460.94 L362.60 460.95 L363.20 460.95 L363.80 460.96 L364.40 460.96 L365.00 460.96 L365.60 460.97 L366.20 460.97 L366.80 460.98 L367.40 460.98 L368.00 460.98 L368.60 460.98 L369.20 460.99 L369.80 460.99 L370.40 460.99 L371.00 460.99 L371.60 460.99 L372.20 461.00 L372.80 461.00 L373.40 461.00 L374.00 461.00 L374.60 461.00 L375.20 461.00 L375.80 461.00" fill="none" stroke="#7ec47e" stroke-width="1.2" stroke-linejoin="round"/>
<path d="M209.00 468.80 L209.60 468.80 L210.20 468.80 L210.80 468.80 L211.40 468.80 L212.00 468.80 L212.60 468.80 L213.20 468.80 L213.80 468.80 L214.40 468.80 L215.00 468.80 L215.60 468.80 L216.20 468.80 L216.80 468.80 L217.40 468.80 L218.00 468.80 L218.60 468.80 L219.20 468.80 L219.80 468.80 L220.40 468.80 L221.00 468.80 L221.60 468.80 L222.20 468.80 L222.80 468.80 L223.40 468.80 L224.00 468.80 L224.60 468.80 L225.20 468.80 L225.80 468.80 L226.40 468.80 L227.00 468.80 L227.60 468.80 L228.20 468.80 L228.80 468.80 L229.40 468.80 L230.00 468.80 L230.60 468.79 L231.20 468.35 L231.80 467.45 L232.40 466.28 L233.00 464.08 L233.60 461.22 L234.20 458.72 L234.80 456.33 L235.40 454.49 L236.00 453.48 L236.60 452.91 L237.20 453.01 L237.80 453.33 L238.40 453.74 L239.00 454.17 L239.60 454.71 L240.20 455.34 L240.80 456.02 L241.40 456.69 L242.00 457.34 L242.60 457.91 L243.20 458.37 L243.80 458.77 L244.40 459.17 L245.00 459.55 L245.60 459.91 L246.20 460.27 L246.80 460.61 L247.40 460.94 L248.00 461.26 L248.60 461.56 L249.20 461.86 L249.80 462.14 L250.40 462.41 L251.00 462.67 L251.60 462.92 L252.20 463.16 L252.80 463.38 L253.40 463.60 L254.00 463.80 L254.60 464.00 L255.20 464.19 L255.80 464.37 L256.40 464.55 L257.00 464.72 L257.60 464.88 L258.20 465.04 L258.80 465.20 L259.40 465.35 L260.00 465.50 L260.60 465.64 L261.20 465.77 L261.80 465.90 L262.40 466.02 L263.00 466.14 L263.60 466.26 L264.20 466.37 L264.80 466.47 L265.40 466.57 L266.00 466.67 L266.60 466.76 L267.20 466.85 L267.80 466.94 L268.40 467.03 L269.00 467.12 L269.60 467.21 L270.20 467.29 L270.80 467.37 L271.40 467.45 L272.00 467.53 L272.60 467.60 L273.20 467.67 L273.80 467.73 L274.40 467.79 L275.00 467.84 L275.60 467.89 L276.20 467.93 L276.80 467.96 L277.40 467.99 L278.00 468.01 L278.60 468.03 L279.20 468.05 L279.80 468.07 L280.40 468.09 L281.00 468.10 L281.60 468.12 L282.20 468.14 L282.80 468.16 L283.40 468.17 L284.00 468.19 L284.60 468.20 L285.20 468.22 L285.80 468.23 L286.40 468.24 L287.00 468.26 L287.60 468.27 L288.20 468.28 L288.80 468.29 L289.40 468.30 L290.00 468.31 L290.60 468.32 L291.20 468.33 L291.80 468.34 L292.40 468.35 L293.00 468.36 L293.60 468.36 L294.20 468.37 L294.80 468.38 L295.40 468.38 L296.00 468.39 L296.60 468.39 L297.20 468.39 L297.80 468.40 L298.40 468.40 L299.00 468.40 L299.60 468.40 L300.20 468.40 L300.80 468.40 L301.40 468.40 L302.00 468.40 L302.60 468.40 L303.20 468.40 L303.80 468.40 L304.40 468.40 L305.00 468.40 L305.60 468.40 L306.20 468.40 L306.80 468.40 L307.40 468.40 L308.00 468.40 L308.60 468.40 L309.20 468.40 L309.80 468.40 L310.40 468.40 L311.00 468.40 L311.60 468.40 L312.20 468.40 L312.80 468.40 L313.40 468.40 L314.00 468.40 L314.60 468.40 L315.20 468.40 L315.80 468.40 L316.40 468.40 L317.00 468.40 L317.60 468.40 L318.20 468.40 L318.80 468.40 L319.40 468.40 L320.00 468.40 L320.60 468.40 L321.20 468.40 L321.80 468.40 L322.40 468.40 L323.00 468.40 L323.60 468.40 L324.20 468.40 L324.80 468.40 L325.40 468.40 L326.00 468.40 L326.60 468.40 L327.20 468.40 L327.80 468.40 L328.40 468.40 L329.00 468.40 L329.60 468.40 L330.20 468.40 L330.80 468.40 L331.40 468.40 L332.00 468.40 L332.60 468.40 L333.20 468.40 L333.80 468.40 L334.40 468.40 L335.00 468.40 L335.60 468.40 L336.20 468.40 L336.80 468.40 L337.40 468.40 L338.00 468.40 L338.60 468.40 L339.20 468.40 L339.80 468.40 L340.40 468.40 L341.00 468.40 L341.60 468.40 L342.20 468.40 L342.80 468.40 L343.40 468.40 L344.00 468.40 L344.60 468.40 L345.20 468.40 L345.80 468.40 L346.40 468.40 L347.00 468.40 L347.60 468.40 L348.20 468.40 L348.80 468.40 L349.40 468.40 L350.00 468.40 L350.60 468.40 L351.20 468.40 L351.80 468.40 L352.40 468.40 L353.00 468.40 L353.60 468.40 L354.20 468.40 L354.80 468.40 L355.40 468.40 L356.00 468.40 L356.60 468.40 L357.20 468.40 L357.80 468.40 L358.40 468.40 L359.00 468.40 L359.60 468.40 L360.20 468.40 L360.80 468.40 L361.40 468.40 L362.00 468.40 L362.60 468.40 L363.20 468.40 L363.80 468.40 L364.40 468.40 L365.00 468.40 L365.60 468.40 L366.20 468.40 L366.80 468.40 L367.40 468.40 L368.00 468.40 L368.60 468.40 L369.20 468.40 L369.80 468.40 L370.40 468.40 L371.00 468.40 L371.60 468.40 L372.20 468.40 L372.80 468.40 L373.40 468.40 L374.00 468.40 L374.60 468.40 L375.20 468.40 L375.80 468.40" fill="none" stroke="#cc56a4" stroke-width="1.2" stroke-linejoin="round"/>
<path d="M209.00 476.20 L209.60 476.20 L210.20 476.20 L210.80 476.20 L211.40 476.20 L212.00 476.20 L212.60 476.20 L213.20 476.20 L213.80 476.20 L214.40 476.20 L215.00 476.20 L215.60 476.20 L216.20 476.20 L216.80 476.20 L217.40 476.20 L218.00 476.20 L218.60 476.20 L219.20 476.20 L219.80 476.20 L220.40 476.20 L221.00 476.20 L221.60 476.20 L222.20 476.20 L222.80 476.20 L223.40 476.20 L224.00 476.20 L224.60 476.20 L225.20 476.20 L225.80 476.20 L226.40 476.20 L227.00 476.20 L227.60 476.20 L228.20 476.20 L228.80 476.20 L229.40 476.20 L230.00 476.20 L230.60 476.20 L231.20 476.20 L231.80 476.20 L232.40 475.74 L233.00 474.65 L233.60 473.32 L234.20 471.27 L234.80 468.80 L235.40 466.50 L236.00 464.38 L236.60 462.43 L237.20 461.13 L237.80 460.32 L238.40 460.40 L239.00 460.70 L239.60 461.06 L240.20 461.54 L240.80 462.16 L241.40 462.86 L242.00 463.55 L242.60 464.18 L243.20 464.67 L243.80 465.09 L244.40 465.49 L245.00 465.87 L245.60 466.24 L246.20 466.60 L246.80 466.94 L247.40 467.27 L248.00 467.58 L248.60 467.89 L249.20 468.18 L249.80 468.46 L250.40 468.73 L251.00 469.00 L251.60 469.25 L252.20 469.49 L252.80 469.73 L253.40 469.96 L254.00 470.18 L254.60 470.40 L255.20 470.61 L255.80 470.82 L256.40 471.02 L257.00 471.21 L257.60 471.40 L258.20 471.58 L258.80 471.76 L259.40 471.93 L260.00 472.10 L260.60 472.26 L261.20 472.42 L261.80 472.58 L262.40 472.73 L263.00 472.87 L263.60 473.02 L264.20 473.16 L264.80 473.29 L265.40 473.43 L266.00 473.56 L266.60 473.69 L267.20 473.81 L267.80 473.94 L268.40 474.07 L269.00 474.20 L269.60 474.33 L270.20 474.45 L270.80 474.57 L271.40 474.69 L272.00 474.81 L272.60 474.92 L273.20 475.02 L273.80 475.12 L274.40 475.22 L275.00 475.30 L275.60 475.38 L276.20 475.46 L276.80 475.52 L277.40 475.58 L278.00 475.62 L278.60 475.67 L279.20 475.71 L279.80 475.75 L280.40 475.79 L281.00 475.83 L281.60 475.87 L282.20 475.91 L282.80 475.94 L283.40 475.98 L284.00 476.01 L284.60 476.05 L285.20 476.08 L285.80 476.11 L286.40 476.14 L287.00 476.17 L287.60 476.20 L288.20 476.22 L288.80 476.25 L289.40 476.28 L290.00 476.30 L290.60 476.32 L291.20 476.35 L291.80 476.37 L292.40 476.39 L293.00 476.41 L293.60 476.43 L294.20 476.45 L294.80 476.47 L295.40 476.49 L296.00 476.50 L296.60 476.52 L297.20 476.53 L297.80 476.55 L298.40 476.56 L299.00 476.58 L299.60 476.59 L300.20 476.60 L300.80 476.62 L301.40 476.63 L302.00 476.64 L302.60 476.65 L303.20 476.67 L303.80 476.68 L304.40 476.69 L305.00 476.70 L305.60 476.71 L306.20 476.73 L306.80 476.74 L307.40 476.75 L308.00 476.76 L308.60 476.77 L309.20 476.78 L309.80 476.79 L310.40 476.80 L311.00 476.82 L311.60 476.83 L312.20 476.84 L312.80 476.85 L313.40 476.85 L314.00 476.86 L314.60 476.87 L315.20 476.88 L315.80 476.89 L316.40 476.90 L317.00 476.91 L317.60 476.91 L318.20 476.92 L318.80 476.93 L319.40 476.94 L320.00 476.94 L320.60 476.95 L321.20 476.96 L321.80 476.96 L322.40 476.97 L323.00 476.97 L323.60 476.98 L324.20 476.98 L324.80 476.98 L325.40 476.99 L326.00 476.99 L326.60 476.99 L327.20 477.00 L327.80 477.00 L328.40 477.00 L329.00 477.00 L329.60 477.00 L330.20 477.00 L330.80 477.00 L331.40 477.00 L332.00 477.00 L332.60 477.00 L333.20 477.00 L333.80 477.00 L334.40 477.00 L335.00 477.00 L335.60 477.00 L336.20 477.00 L336.80 477.00 L337.40 477.00 L338.00 477.00 L338.60 477.00 L339.20 477.00 L339.80 477.00 L340.40 477.00 L341.00 477.00 L341.60 477.00 L342.20 477.00 L342.80 477.00 L343.40 477.00 L344.00 477.00 L344.60 477.00 L345.20 477.00 L345.80 477.00 L346.40 477.00 L347.00 477.00 L347.60 477.00 L348.20 477.00 L348.80 477.00 L349.40 477.00 L350.00 477.00 L350.60 477.00 L351.20 477.00 L351.80 477.00 L352.40 477.00 L353.00 477.00 L353.60 477.00 L354.20 477.00 L354.80 477.00 L355.40 477.00 L356.00 477.00 L356.60 477.00 L357.20 477.00 L357.80 477.00 L358.40 477.00 L359.00 477.00 L359.60 477.00 L360.20 477.00 L360.80 477.00 L361.40 477.00 L362.00 477.00 L362.60 477.00 L363.20 477.00 L363.80 477.00 L364.40 477.00 L365.00 477.00 L365.60 477.00 L366.20 477.00 L366.80 477.00 L367.40 477.00 L368.00 477.00 L368.60 477.00 L369.20 477.00 L369.80 477.00 L370.40 477.00 L371.00 477.00 L371.60 477.00 L372.20 477.00 L372.80 477.00 L373.40 477.00 L374.00 477.00 L374.60 477.00 L375.20 477.00 L375.80 477.00" fill="none" stroke="#7a6452" stroke-width="1.2" stroke-linejoin="round"/>
<path d="M209.00 484.30 L209.60 484.30 L210.20 484.30 L210.80 484.30 L211.40 484.30 L212.00 484.30 L212.60 484.30 L213.20 484.30 L213.80 484.30 L214.40 484.30 L215.00 484.30 L215.60 484.30 L216.20 484.30 L216.80 484.30 L217.40 484.30 L218.00 484.30 L218.60 484.30 L219.20 484.30 L219.80 484.30 L220.40 484.30 L221.00 484.30 L221.60 484.30 L222.20 484.30 L222.80 484.30 L223.40 484.30 L224.00 484.30 L224.60 484.30 L225.20 484.30 L225.80 484.30 L226.40 484.30 L227.00 484.30 L227.60 484.30 L228.20 484.30 L228.80 484.30 L229.40 484.30 L230.00 484.30 L230.60 484.30 L231.20 484.30 L231.80 484.30 L232.40 484.30 L233.00 484.30 L233.60 484.30 L234.20 484.30 L234.80 484.30 L235.40 484.30 L236.00 484.30 L236.60 484.30 L237.20 484.30 L237.80 484.30 L238.40 484.30 L239.00 484.30 L239.60 484.30 L240.20 484.30 L240.80 484.30 L241.40 484.30 L242.00 484.30 L242.60 484.30 L243.20 484.30 L243.80 484.30 L244.40 484.30 L245.00 484.30 L245.60 484.30 L246.20 484.30 L246.80 484.30 L247.40 484.30 L248.00 484.30 L248.60 484.30 L249.20 484.30 L249.80 484.30 L250.40 484.30 L251.00 484.30 L251.60 484.30 L252.20 484.30 L252.80 484.30 L253.40 484.30 L254.00 484.30 L254.60 484.30 L255.20 484.30 L255.80 484.30 L256.40 484.30 L257.00 484.30 L257.60 484.30 L258.20 484.30 L258.80 484.30 L259.40 484.30 L260.00 484.19 L260.60 483.85 L261.20 483.46 L261.80 483.17 L262.40 482.92 L263.00 482.68 L263.60 482.45 L264.20 482.23 L264.80 482.03 L265.40 481.84 L266.00 481.60 L266.60 481.29 L267.20 480.91 L267.80 480.48 L268.40 480.04 L269.00 479.60 L269.60 479.13 L270.20 478.60 L270.80 478.06 L271.40 477.56 L272.00 477.15 L272.60 476.86 L273.20 476.63 L273.80 476.42 L274.40 476.23 L275.00 476.06 L275.60 475.93 L276.20 475.84 L276.80 475.80 L277.40 475.82 L278.00 475.87 L278.60 475.95 L279.20 476.06 L279.80 476.17 L280.40 476.29 L281.00 476.40 L281.60 476.51 L282.20 476.62 L282.80 476.74 L283.40 476.87 L284.00 477.00 L284.60 477.14 L285.20 477.28 L285.80 477.42 L286.40 477.57 L287.00 477.72 L287.60 477.87 L288.20 478.02 L288.80 478.18 L289.40 478.35 L290.00 478.53 L290.60 478.72 L291.20 478.92 L291.80 479.12 L292.40 479.31 L293.00 479.51 L293.60 479.70 L294.20 479.89 L294.80 480.06 L295.40 480.22 L296.00 480.36 L296.60 480.48 L297.20 480.60 L297.80 480.72 L298.40 480.84 L299.00 480.95 L299.60 481.06 L300.20 481.17 L300.80 481.27 L301.40 481.37 L302.00 481.47 L302.60 481.57 L303.20 481.66 L303.80 481.75 L304.40 481.84 L305.00 481.93 L305.60 482.01 L306.20 482.09 L306.80 482.17 L307.40 482.25 L308.00 482.32 L308.60 482.39 L309.20 482.46 L309.80 482.53 L310.40 482.59 L311.00 482.65 L311.60 482.71 L312.20 482.77 L312.80 482.83 L313.40 482.88 L314.00 482.94 L314.60 483.00 L315.20 483.05 L315.80 483.11 L316.40 483.16 L317.00 483.21 L317.60 483.26 L318.20 483.31 L318.80 483.36 L319.40 483.41 L320.00 483.45 L320.60 483.49 L321.20 483.53 L321.80 483.57 L322.40 483.61 L323.00 483.64 L323.60 483.68 L324.20 483.70 L324.80 483.73 L325.40 483.75 L326.00 483.77 L326.60 483.79 L327.20 483.81 L327.80 483.82 L328.40 483.84 L329.00 483.85 L329.60 483.86 L330.20 483.88 L330.80 483.89 L331.40 483.90 L332.00 483.92 L332.60 483.93 L333.20 483.94 L333.80 483.95 L334.40 483.97 L335.00 483.98 L335.60 483.99 L336.20 484.00 L336.80 484.01 L337.40 484.03 L338.00 484.04 L338.60 484.05 L339.20 484.06 L339.80 484.07 L340.40 484.08 L341.00 484.09 L341.60 484.10 L342.20 484.11 L342.80 484.12 L343.40 484.13 L344.00 484.14 L344.60 484.15 L345.20 484.16 L345.80 484.17 L346.40 484.18 L347.00 484.19 L347.60 484.20 L348.20 484.20 L348.80 484.21 L349.40 484.22 L350.00 484.23 L350.60 484.24 L351.20 484.24 L351.80 484.25 L352.40 484.26 L353.00 484.27 L353.60 484.27 L354.20 484.28 L354.80 484.29 L355.40 484.29 L356.00 484.30 L356.60 484.30 L357.20 484.31 L357.80 484.32 L358.40 484.32 L359.00 484.33 L359.60 484.33 L360.20 484.34 L360.80 484.34 L361.40 484.35 L362.00 484.35 L362.60 484.35 L363.20 484.36 L363.80 484.36 L364.40 484.37 L365.00 484.37 L365.60 484.37 L366.20 484.38 L366.80 484.38 L367.40 484.38 L368.00 484.38 L368.60 484.39 L369.20 484.39 L369.80 484.39 L370.40 484.39 L371.00 484.39 L371.60 484.40 L372.20 484.40 L372.80 484.40 L373.40 484.40 L374.00 484.40 L374.60 484.40 L375.20 484.40 L375.80 484.40" fill="none" stroke="#2e6a58" stroke-width="1.2" stroke-linejoin="round"/>
<path d="M209.00 491.60 L209.60 491.60 L210.20 491.60 L210.80 491.60 L211.40 491.60 L212.00 491.60 L212.60 491.60 L213.20 491.60 L213.80 491.60 L214.40 491.60 L215.00 491.60 L215.60 491.60 L216.20 491.60 L216.80 491.60 L217.40 491.60 L218.00 491.60 L218.60 491.60 L219.20 491.60 L219.80 491.60 L220.40 491.60 L221.00 491.60 L221.60 491.60 L222.20 491.60 L222.80 491.60 L223.40 491.60 L224.00 491.60 L224.60 491.60 L225.20 491.60 L225.80 491.60 L226.40 491.60 L227.00 491.60 L227.60 491.60 L228.20 491.60 L228.80 491.60 L229.40 491.60 L230.00 491.60 L230.60 491.60 L231.20 491.60 L231.80 491.60 L232.40 491.60 L233.00 491.60 L233.60 491.60 L234.20 491.60 L234.80 491.60 L235.40 491.60 L236.00 491.60 L236.60 491.60 L237.20 491.60 L237.80 491.60 L238.40 491.60 L239.00 491.60 L239.60 491.60 L240.20 491.60 L240.80 491.60 L241.40 491.60 L242.00 491.60 L242.60 491.60 L243.20 491.60 L243.80 491.60 L244.40 491.60 L245.00 491.60 L245.60 491.60 L246.20 491.60 L246.80 491.60 L247.40 491.60 L248.00 491.60 L248.60 491.60 L249.20 491.60 L249.80 491.60 L250.40 491.60 L251.00 491.60 L251.60 491.60 L252.20 491.60 L252.80 491.60 L253.40 491.60 L254.00 491.60 L254.60 491.60 L255.20 491.60 L255.80 491.60 L256.40 491.60 L257.00 491.60 L257.60 491.60 L258.20 491.60 L258.80 491.60 L259.40 491.60 L260.00 491.60 L260.60 491.60 L261.20 491.49 L261.80 491.25 L262.40 490.94 L263.00 490.60 L263.60 490.20 L264.20 489.68 L264.80 489.10 L265.40 488.50 L266.00 487.88 L266.60 487.20 L267.20 486.50 L267.80 485.82 L268.40 485.19 L269.00 484.63 L269.60 484.07 L270.20 483.54 L270.80 483.05 L271.40 482.63 L272.00 482.30 L272.60 482.02 L273.20 481.75 L273.80 481.52 L274.40 481.33 L275.00 481.22 L275.60 481.20 L276.20 481.26 L276.80 481.37 L277.40 481.51 L278.00 481.67 L278.60 481.83 L279.20 482.01 L279.80 482.24 L280.40 482.50 L281.00 482.79 L281.60 483.09 L282.20 483.40 L282.80 483.71 L283.40 484.01 L284.00 484.30 L284.60 484.59 L285.20 484.90 L285.80 485.22 L286.40 485.53 L287.00 485.84 L287.60 486.12 L288.20 486.38 L288.80 486.61 L289.40 486.83 L290.00 487.05 L290.60 487.26 L291.20 487.46 L291.80 487.66 L292.40 487.85 L293.00 488.02 L293.60 488.19 L294.20 488.35 L294.80 488.50 L295.40 488.64 L296.00 488.76 L296.60 488.88 L297.20 488.99 L297.80 489.09 L298.40 489.20 L299.00 489.30 L299.60 489.40 L300.20 489.49 L300.80 489.58 L301.40 489.67 L302.00 489.76 L302.60 489.84 L303.20 489.92 L303.80 490.00 L304.40 490.08 L305.00 490.15 L305.60 490.22 L306.20 490.29 L306.80 490.36 L307.40 490.42 L308.00 490.48 L308.60 490.54 L309.20 490.60 L309.80 490.65 L310.40 490.71 L311.00 490.76 L311.60 490.81 L312.20 490.86 L312.80 490.90 L313.40 490.95 L314.00 490.99 L314.60 491.04 L315.20 491.08 L315.80 491.12 L316.40 491.16 L317.00 491.20 L317.60 491.24 L318.20 491.28 L318.80 491.32 L319.40 491.35 L320.00 491.39 L320.60 491.42 L321.20 491.45 L321.80 491.49 L322.40 491.52 L323.00 491.54 L323.60 491.57 L324.20 491.60 L324.80 491.62 L325.40 491.65 L326.00 491.67 L326.60 491.69 L327.20 491.71 L327.80 491.73 L328.40 491.75 L329.00 491.77 L329.60 491.79 L330.20 491.81 L330.80 491.83 L331.40 491.85 L332.00 491.87 L332.60 491.88 L333.20 491.90 L333.80 491.92 L334.40 491.94 L335.00 491.96 L335.60 491.98 L336.20 492.00 L336.80 492.01 L337.40 492.03 L338.00 492.05 L338.60 492.07 L339.20 492.09 L339.80 492.10 L340.40 492.12 L341.00 492.14 L341.60 492.15 L342.20 492.17 L342.80 492.19 L343.40 492.20 L344.00 492.22 L344.60 492.24 L345.20 492.25 L345.80 492.27 L346.40 492.28 L347.00 492.30 L347.60 492.31 L348.20 492.33 L348.80 492.34 L349.40 492.36 L350.00 492.37 L350.60 492.38 L351.20 492.40 L351.80 492.41 L352.40 492.42 L353.00 492.44 L353.60 492.45 L354.20 492.46 L354.80 492.47 L355.40 492.49 L356.00 492.50 L356.60 492.51 L357.20 492.52 L357.80 492.53 L358.40 492.54 L359.00 492.55 L359.60 492.56 L360.20 492.57 L360.80 492.58 L361.40 492.59 L362.00 492.60 L362.60 492.61 L363.20 492.61 L363.80 492.62 L364.40 492.63 L365.00 492.64 L365.60 492.64 L366.20 492.65 L366.80 492.65 L367.40 492.66 L368.00 492.67 L368.60 492.67 L369.20 492.68 L369.80 492.68 L370.40 492.68 L371.00 492.69 L371.60 492.69 L372.20 492.69 L372.80 492.69 L373.40 492.70 L374.00 492.70 L374.60 492.70 L375.20 492.70 L375.80 492.70" fill="none" stroke="#aea6c8" stroke-width="1.2" stroke-linejoin="round"/>
<rect x="0.5" y="0.5" width="519" height="503" fill="none" stroke="#444" stroke-width="1"/>
</svg>
</body></html>
